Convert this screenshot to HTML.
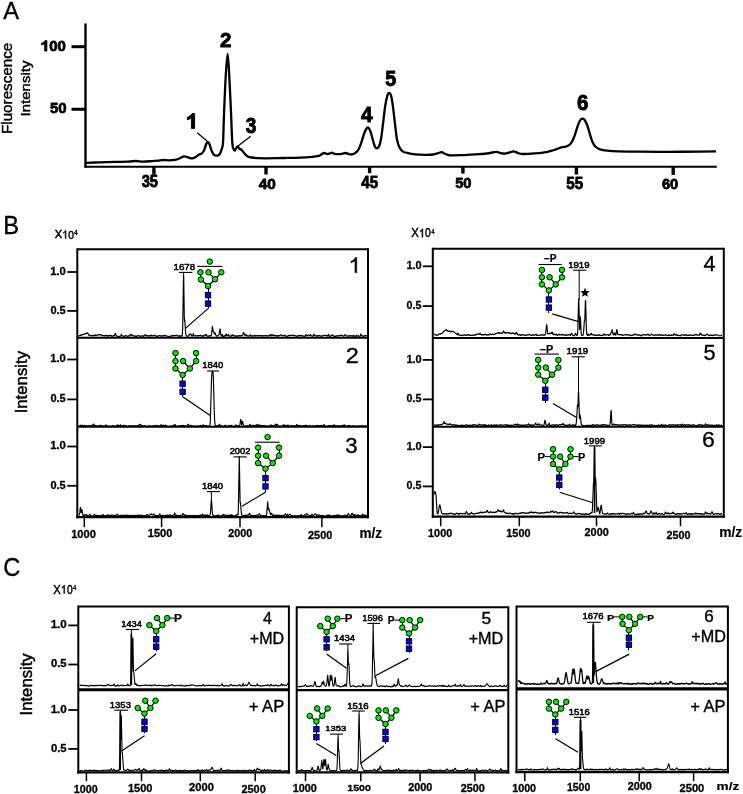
<!DOCTYPE html>
<html><head><meta charset="utf-8"><title>Figure</title>
<style>
html,body{margin:0;padding:0;background:#fff;}
svg{display:block;will-change:transform;}
text{font-family:"Liberation Sans",sans-serif;}
</style></head>
<body>
<svg width="743" height="794" viewBox="0 0 743 794">
<rect width="743" height="794" fill="#fff"/>
<text transform="translate(3.17,19.43) scale(0.9585,1)" font-size="24.71" font-weight="400" fill="#000"  stroke="#000" stroke-width="0.35" stroke-linejoin="round">A</text>
<text transform="translate(12.32,133.99) rotate(-90) scale(0.9849,1)" font-size="15.44" font-weight="400" fill="#000"  stroke="#000" stroke-width="0.45" stroke-linejoin="round">Fluorescence</text>
<text transform="translate(29.51,116.53) rotate(-90) scale(1.1025,1)" font-size="13.64" font-weight="400" fill="#000"  stroke="#000" stroke-width="0.45" stroke-linejoin="round">Intensity</text>
<line x1="85.50" y1="24.40" x2="85.50" y2="166.80" stroke="#000" stroke-width="2.4" stroke-linecap="round"/>
<line x1="84.50" y1="166.80" x2="716.80" y2="166.80" stroke="#000" stroke-width="2.0" />
<line x1="71.50" y1="46.70" x2="85.60" y2="46.70" stroke="#000" stroke-width="3.0" />
<line x1="71.50" y1="109.25" x2="85.60" y2="109.25" stroke="#000" stroke-width="3.0" />
<path transform="matrix(0.008230,0,0,-0.007231,40.234,51.100)" d="M810,0 L529,0 L529,1059 Q375,915 166,846 L166,1101 Q276,1137 400,1234 Q523,1330 598,1466 L810,1466 Z" fill="#000" stroke="#000" stroke-width="103.49" stroke-linejoin="round"/>
<text transform="translate(49.20,51.05) scale(1.0110,1)" font-size="14.79" font-weight="700" fill="#000"  stroke="#000" stroke-width="0.8" stroke-linejoin="round">00</text>
<text transform="translate(49.95,113.35) scale(0.9682,1)" font-size="15.49" font-weight="700" fill="#000"  stroke="#000" stroke-width="0.8" stroke-linejoin="round">50</text>
<line x1="153.90" y1="166.80" x2="153.90" y2="174.70" stroke="#000" stroke-width="3.4" />
<text transform="translate(141.63,187.44) scale(0.9414,1)" font-size="15.63" font-weight="700" fill="#000"  stroke="#000" stroke-width="0.8" stroke-linejoin="round">35</text>
<line x1="266.00" y1="166.80" x2="266.00" y2="174.50" stroke="#000" stroke-width="3.4" />
<text transform="translate(258.67,189.05) scale(1.0095,1)" font-size="15.21" font-weight="700" fill="#000"  stroke="#000" stroke-width="0.8" stroke-linejoin="round">40</text>
<line x1="369.60" y1="166.80" x2="369.60" y2="173.20" stroke="#000" stroke-width="3.4" />
<text transform="translate(361.37,188.34) scale(0.9591,1)" font-size="15.79" font-weight="700" fill="#000"  stroke="#000" stroke-width="0.8" stroke-linejoin="round">45</text>
<line x1="462.90" y1="166.80" x2="462.90" y2="173.60" stroke="#000" stroke-width="3.4" />
<text transform="translate(455.16,188.34) scale(0.9453,1)" font-size="15.56" font-weight="700" fill="#000"  stroke="#000" stroke-width="0.8" stroke-linejoin="round">50</text>
<line x1="576.40" y1="166.80" x2="576.40" y2="174.50" stroke="#000" stroke-width="3.4" />
<text transform="translate(566.25,188.54) scale(0.9479,1)" font-size="16.00" font-weight="700" fill="#000"  stroke="#000" stroke-width="0.8" stroke-linejoin="round">55</text>
<line x1="673.20" y1="166.80" x2="673.20" y2="174.90" stroke="#000" stroke-width="3.4" />
<text transform="translate(661.89,189.05) scale(1.0026,1)" font-size="14.65" font-weight="700" fill="#000"  stroke="#000" stroke-width="0.8" stroke-linejoin="round">60</text>
<path transform="matrix(0.011258,0,0,-0.010164,185.481,128.450)" d="M810,0 L529,0 L529,1059 Q375,915 166,846 L166,1101 Q276,1137 400,1234 Q523,1330 598,1466 L810,1466 Z" fill="#000" stroke="#000" stroke-width="84.03" stroke-linejoin="round"/>
<text transform="translate(220.03,47.35) scale(0.9889,1)" font-size="20.86" font-weight="700" fill="#000"  stroke="#000" stroke-width="0.9" stroke-linejoin="round">2</text>
<text transform="translate(245.78,133.34) scale(0.8929,1)" font-size="21.27" font-weight="700" fill="#000"  stroke="#000" stroke-width="0.9" stroke-linejoin="round">3</text>
<text transform="translate(360.94,121.75) scale(0.9739,1)" font-size="21.30" font-weight="700" fill="#000"  stroke="#000" stroke-width="0.9" stroke-linejoin="round">4</text>
<text transform="translate(385.36,86.39) scale(0.9177,1)" font-size="21.36" font-weight="700" fill="#000"  stroke="#000" stroke-width="0.9" stroke-linejoin="round">5</text>
<text transform="translate(576.94,110.14) scale(0.9535,1)" font-size="21.41" font-weight="700" fill="#000"  stroke="#000" stroke-width="0.9" stroke-linejoin="round">6</text>
<line x1="197.20" y1="132.80" x2="207.00" y2="141.10" stroke="#000" stroke-width="1.3" />
<line x1="250.70" y1="136.30" x2="237.70" y2="146.30" stroke="#000" stroke-width="1.3" />
<path d="M86.00,162.90 C88.33,162.80 95.17,162.47 100.00,162.30 C104.83,162.13 110.33,162.02 115.00,161.90 C119.67,161.78 124.50,161.75 128.00,161.60 C131.50,161.45 133.50,161.00 136.00,161.00 C138.50,161.00 140.33,161.58 143.00,161.60 C145.67,161.62 149.50,161.27 152.00,161.10 C154.50,160.93 156.17,160.78 158.00,160.60 C159.83,160.42 161.17,160.05 163.00,160.00 C164.83,159.95 167.00,160.32 169.00,160.30 C171.00,160.28 173.17,160.25 175.00,159.90 C176.83,159.55 178.50,158.80 180.00,158.20 C181.50,157.60 182.67,156.43 184.00,156.30 C185.33,156.17 186.67,157.05 188.00,157.40 C189.33,157.75 190.67,158.50 192.00,158.40 C193.33,158.30 194.83,157.43 196.00,156.80 C197.17,156.17 198.08,155.13 199.00,154.60 C199.92,154.07 200.67,154.28 201.50,153.60 C202.33,152.92 203.25,152.02 204.00,150.50 C204.75,148.98 205.37,145.95 206.00,144.50 C206.63,143.05 207.20,141.80 207.80,141.80 C208.40,141.80 208.98,143.05 209.60,144.50 C210.22,145.95 210.77,148.78 211.50,150.50 C212.23,152.22 213.03,153.95 214.00,154.80 C214.97,155.65 216.33,155.73 217.30,155.60 C218.27,155.47 219.12,154.93 219.80,154.00 C220.48,153.07 220.87,151.85 221.40,150.00 C221.93,148.15 222.57,148.82 223.00,142.90 C223.43,136.98 223.55,125.53 224.00,114.50 C224.45,103.47 225.10,86.78 225.70,76.70 C226.30,66.62 227.00,54.00 227.60,54.00 C228.20,54.00 228.72,66.62 229.30,76.70 C229.88,86.78 230.60,103.47 231.10,114.50 C231.60,125.53 231.88,137.15 232.30,142.90 C232.72,148.65 233.18,147.72 233.60,149.00 C234.02,150.28 234.35,150.77 234.80,150.60 C235.25,150.43 235.85,148.72 236.30,148.00 C236.75,147.28 237.00,146.20 237.50,146.30 C238.00,146.40 238.68,148.05 239.30,148.60 C239.92,149.15 240.50,149.00 241.20,149.60 C241.90,150.20 242.70,151.27 243.50,152.20 C244.30,153.13 245.17,154.42 246.00,155.20 C246.83,155.98 247.58,156.52 248.50,156.90 C249.42,157.28 249.92,157.30 251.50,157.50 C253.08,157.70 255.75,157.97 258.00,158.10 C260.25,158.23 260.50,158.32 265.00,158.30 C269.50,158.28 279.17,158.12 285.00,158.00 C290.83,157.88 295.50,157.80 300.00,157.60 C304.50,157.40 308.87,157.10 312.00,156.80 C315.13,156.50 317.22,156.23 318.80,155.80 C320.38,155.37 320.60,154.67 321.50,154.20 C322.40,153.73 323.28,153.03 324.20,153.00 C325.12,152.97 326.12,153.90 327.00,154.00 C327.88,154.10 328.72,153.82 329.50,153.60 C330.28,153.38 330.87,152.67 331.70,152.70 C332.53,152.73 333.45,153.55 334.50,153.80 C335.55,154.05 336.75,154.20 338.00,154.20 C339.25,154.20 340.72,154.00 342.00,153.80 C343.28,153.60 344.53,152.93 345.70,153.00 C346.87,153.07 347.95,153.97 349.00,154.20 C350.05,154.43 350.92,154.63 352.00,154.40 C353.08,154.17 354.42,153.62 355.50,152.80 C356.58,151.98 357.50,151.30 358.50,149.50 C359.50,147.70 360.50,144.83 361.50,142.00 C362.50,139.17 363.45,134.92 364.50,132.50 C365.55,130.08 366.80,127.67 367.80,127.50 C368.80,127.33 369.63,129.33 370.50,131.50 C371.37,133.67 372.25,137.95 373.00,140.50 C373.75,143.05 374.35,145.48 375.00,146.80 C375.65,148.12 376.23,148.45 376.90,148.40 C377.57,148.35 378.32,148.07 379.00,146.50 C379.68,144.93 380.33,142.75 381.00,139.00 C381.67,135.25 382.30,129.50 383.00,124.00 C383.70,118.50 384.45,110.80 385.20,106.00 C385.95,101.20 386.80,97.40 387.50,95.20 C388.20,93.00 388.78,92.67 389.40,92.80 C390.02,92.93 390.60,93.63 391.20,96.00 C391.80,98.37 392.37,102.33 393.00,107.00 C393.63,111.67 394.33,118.58 395.00,124.00 C395.67,129.42 396.25,135.58 397.00,139.50 C397.75,143.42 398.50,145.48 399.50,147.50 C400.50,149.52 401.58,150.65 403.00,151.60 C404.42,152.55 406.00,152.75 408.00,153.20 C410.00,153.65 412.17,154.03 415.00,154.30 C417.83,154.57 422.00,154.77 425.00,154.80 C428.00,154.83 430.83,154.77 433.00,154.50 C435.17,154.23 436.58,153.58 438.00,153.20 C439.42,152.82 440.33,152.10 441.50,152.20 C442.67,152.30 443.65,153.28 445.00,153.80 C446.35,154.32 447.10,155.07 449.60,155.30 C452.10,155.53 455.77,155.37 460.00,155.20 C464.23,155.03 470.45,154.58 475.00,154.30 C479.55,154.02 484.47,153.80 487.30,153.50 C490.13,153.20 490.43,152.77 492.00,152.50 C493.57,152.23 495.28,151.80 496.70,151.90 C498.12,152.00 499.15,152.82 500.50,153.10 C501.85,153.38 503.38,153.67 504.80,153.60 C506.22,153.53 507.52,153.07 509.00,152.70 C510.48,152.33 512.28,151.38 513.70,151.40 C515.12,151.42 516.07,152.37 517.50,152.80 C518.93,153.23 519.38,153.90 522.30,154.00 C525.22,154.10 530.97,153.72 535.00,153.40 C539.03,153.08 543.33,152.67 546.50,152.10 C549.67,151.53 551.75,150.72 554.00,150.00 C556.25,149.28 558.25,148.33 560.00,147.80 C561.75,147.27 563.08,147.17 564.50,146.80 C565.92,146.43 567.33,146.32 568.50,145.60 C569.67,144.88 570.50,144.10 571.50,142.50 C572.50,140.90 573.50,138.67 574.50,136.00 C575.50,133.33 576.58,129.08 577.50,126.50 C578.42,123.92 579.15,121.82 580.00,120.50 C580.85,119.18 581.77,118.60 582.60,118.60 C583.43,118.60 584.18,119.27 585.00,120.50 C585.82,121.73 586.67,123.67 587.50,126.00 C588.33,128.33 589.17,131.83 590.00,134.50 C590.83,137.17 591.58,139.95 592.50,142.00 C593.42,144.05 594.25,145.58 595.50,146.80 C596.75,148.02 598.08,148.67 600.00,149.30 C601.92,149.93 603.83,150.27 607.00,150.60 C610.17,150.93 613.50,151.12 619.00,151.30 C624.50,151.48 631.50,151.62 640.00,151.70 C648.50,151.78 660.00,151.82 670.00,151.80 C680.00,151.78 692.33,151.67 700.00,151.60 C707.67,151.53 713.33,151.43 716.00,151.40" fill="none" stroke="#000" stroke-width="2.3" stroke-linejoin="round"/>
<text transform="translate(3.28,233.62) scale(0.9403,1)" font-size="25.14" font-weight="400" fill="#000"  stroke="#000" stroke-width="0.35" stroke-linejoin="round">B</text>
<text transform="translate(54.65,238.47) scale(0.9354,1)" font-size="11.81" font-weight="400" fill="#000"  stroke="#000" stroke-width="0.45" stroke-linejoin="round">X</text>
<path transform="matrix(0.005278,0,0,-0.005537,62.048,238.475)" d="M763,0 L583,0 L583,1147 Q518,1085 415,1024 Q312,963 223,930 L223,1104 Q375,1175 487,1276 Q599,1377 649,1472 L763,1472 Z" fill="#000" stroke="#000" stroke-width="83.22" stroke-linejoin="round"/>
<text transform="translate(68.21,238.56) scale(0.8769,1)" font-size="11.76" font-weight="400" fill="#000"  stroke="#000" stroke-width="0.45" stroke-linejoin="round">0</text>
<text transform="translate(74.01,235.35) scale(0.9963,1)" font-size="6.96" font-weight="400" fill="#000"  stroke="#000" stroke-width="0.3" stroke-linejoin="round">4</text>
<text transform="translate(411.34,237.18) scale(0.9285,1)" font-size="12.25" font-weight="400" fill="#000"  stroke="#000" stroke-width="0.45" stroke-linejoin="round">X</text>
<path transform="matrix(0.005278,0,0,-0.005673,418.848,237.175)" d="M763,0 L583,0 L583,1147 Q518,1085 415,1024 Q312,963 223,930 L223,1104 Q375,1175 487,1276 Q599,1377 649,1472 L763,1472 Z" fill="#000" stroke="#000" stroke-width="82.19" stroke-linejoin="round"/>
<text transform="translate(425.11,237.25) scale(0.8465,1)" font-size="12.18" font-weight="400" fill="#000"  stroke="#000" stroke-width="0.45" stroke-linejoin="round">0</text>
<text transform="translate(431.23,233.55) scale(0.9316,1)" font-size="6.38" font-weight="400" fill="#000"  stroke="#000" stroke-width="0.3" stroke-linejoin="round">4</text>
<text transform="translate(26.95,413.36) rotate(-90) scale(1.0058,1)" font-size="16.68" font-weight="400" fill="#000"  stroke="#000" stroke-width="0.5" stroke-linejoin="round">Intensity</text>
<line x1="77.30" y1="249.30" x2="368.00" y2="249.30" stroke="#000" stroke-width="2.0" />
<line x1="77.30" y1="248.30" x2="77.30" y2="518.35" stroke="#000" stroke-width="2.0" />
<line x1="368.00" y1="248.30" x2="368.00" y2="518.35" stroke="#000" stroke-width="2.0" />
<line x1="76.30" y1="517.20" x2="369.00" y2="517.20" stroke="#000" stroke-width="2.3" />
<line x1="77.30" y1="337.80" x2="368.00" y2="337.80" stroke="#000" stroke-width="2.0" />
<line x1="77.30" y1="426.80" x2="368.00" y2="426.80" stroke="#000" stroke-width="2.0" />
<line x1="67.30" y1="272.00" x2="77.30" y2="272.00" stroke="#000" stroke-width="1.8" />
<text transform="translate(50.17,274.94) scale(1.0172,1)" font-size="11.13" font-weight="700" fill="#000"  stroke="#000" stroke-width="0.3" stroke-linejoin="round">1.0</text>
<line x1="67.30" y1="310.90" x2="77.30" y2="310.90" stroke="#000" stroke-width="1.8" />
<text transform="translate(50.41,313.84) scale(0.9903,1)" font-size="11.13" font-weight="700" fill="#000"  stroke="#000" stroke-width="0.3" stroke-linejoin="round">0.5</text>
<line x1="67.30" y1="359.50" x2="77.30" y2="359.50" stroke="#000" stroke-width="1.8" />
<text transform="translate(50.17,362.44) scale(1.0172,1)" font-size="11.13" font-weight="700" fill="#000"  stroke="#000" stroke-width="0.3" stroke-linejoin="round">1.0</text>
<line x1="67.30" y1="399.40" x2="77.30" y2="399.40" stroke="#000" stroke-width="1.8" />
<text transform="translate(50.41,402.34) scale(0.9903,1)" font-size="11.13" font-weight="700" fill="#000"  stroke="#000" stroke-width="0.3" stroke-linejoin="round">0.5</text>
<line x1="67.30" y1="446.50" x2="77.30" y2="446.50" stroke="#000" stroke-width="1.8" />
<text transform="translate(50.17,449.44) scale(1.0172,1)" font-size="11.13" font-weight="700" fill="#000"  stroke="#000" stroke-width="0.3" stroke-linejoin="round">1.0</text>
<line x1="67.30" y1="485.80" x2="77.30" y2="485.80" stroke="#000" stroke-width="1.8" />
<text transform="translate(50.41,488.74) scale(0.9903,1)" font-size="11.13" font-weight="700" fill="#000"  stroke="#000" stroke-width="0.3" stroke-linejoin="round">0.5</text>
<line x1="432.80" y1="248.80" x2="723.80" y2="248.80" stroke="#000" stroke-width="2.0" />
<line x1="432.80" y1="247.80" x2="432.80" y2="517.85" stroke="#000" stroke-width="2.0" />
<line x1="723.80" y1="247.80" x2="723.80" y2="517.85" stroke="#000" stroke-width="2.0" />
<line x1="431.80" y1="516.70" x2="724.80" y2="516.70" stroke="#000" stroke-width="2.3" />
<line x1="432.80" y1="338.10" x2="723.80" y2="338.10" stroke="#000" stroke-width="2.0" />
<line x1="432.80" y1="426.80" x2="723.80" y2="426.80" stroke="#000" stroke-width="2.0" />
<line x1="422.80" y1="266.30" x2="432.80" y2="266.30" stroke="#000" stroke-width="1.8" />
<text transform="translate(406.39,269.24) scale(0.9893,1)" font-size="11.13" font-weight="700" fill="#000"  stroke="#000" stroke-width="0.3" stroke-linejoin="round">1.0</text>
<line x1="422.80" y1="306.10" x2="432.80" y2="306.10" stroke="#000" stroke-width="1.8" />
<text transform="translate(406.62,309.04) scale(0.9632,1)" font-size="11.13" font-weight="700" fill="#000"  stroke="#000" stroke-width="0.3" stroke-linejoin="round">0.5</text>
<line x1="422.80" y1="359.90" x2="432.80" y2="359.90" stroke="#000" stroke-width="1.8" />
<text transform="translate(406.39,362.84) scale(0.9893,1)" font-size="11.13" font-weight="700" fill="#000"  stroke="#000" stroke-width="0.3" stroke-linejoin="round">1.0</text>
<line x1="422.80" y1="399.40" x2="432.80" y2="399.40" stroke="#000" stroke-width="1.8" />
<text transform="translate(406.62,402.34) scale(0.9632,1)" font-size="11.13" font-weight="700" fill="#000"  stroke="#000" stroke-width="0.3" stroke-linejoin="round">0.5</text>
<line x1="422.80" y1="447.10" x2="432.80" y2="447.10" stroke="#000" stroke-width="1.8" />
<text transform="translate(406.39,450.04) scale(0.9893,1)" font-size="11.13" font-weight="700" fill="#000"  stroke="#000" stroke-width="0.3" stroke-linejoin="round">1.0</text>
<line x1="422.80" y1="486.40" x2="432.80" y2="486.40" stroke="#000" stroke-width="1.8" />
<text transform="translate(406.62,489.34) scale(0.9632,1)" font-size="11.13" font-weight="700" fill="#000"  stroke="#000" stroke-width="0.3" stroke-linejoin="round">0.5</text>
<line x1="84.30" y1="517.50" x2="84.30" y2="527.20" stroke="#000" stroke-width="1.5" />
<text transform="translate(71.18,538.03) scale(0.9616,1)" font-size="11.55" font-weight="700" fill="#000"  stroke="#000" stroke-width="0.3" stroke-linejoin="round">1000</text>
<line x1="161.60" y1="517.50" x2="161.60" y2="527.20" stroke="#000" stroke-width="1.5" />
<text transform="translate(147.79,537.14) scale(1.0154,1)" font-size="10.85" font-weight="700" fill="#000"  stroke="#000" stroke-width="0.3" stroke-linejoin="round">1500</text>
<line x1="240.00" y1="517.50" x2="240.00" y2="527.20" stroke="#000" stroke-width="1.5" />
<text transform="translate(228.37,536.94) scale(0.9418,1)" font-size="11.41" font-weight="700" fill="#000"  stroke="#000" stroke-width="0.3" stroke-linejoin="round">2000</text>
<line x1="321.90" y1="517.50" x2="321.90" y2="527.20" stroke="#000" stroke-width="1.5" />
<text transform="translate(308.07,539.43) scale(0.9424,1)" font-size="11.55" font-weight="700" fill="#000"  stroke="#000" stroke-width="0.3" stroke-linejoin="round">2500</text>
<text transform="translate(359.42,538.21) scale(0.9389,1)" font-size="14.50" font-weight="700" fill="#000"  stroke="#000" stroke-width="0.2" stroke-linejoin="round">m/z</text>
<line x1="440.70" y1="517.20" x2="440.70" y2="526.20" stroke="#000" stroke-width="1.5" />
<text transform="translate(428.10,536.74) scale(0.9727,1)" font-size="11.13" font-weight="700" fill="#000"  stroke="#000" stroke-width="0.3" stroke-linejoin="round">1000</text>
<line x1="519.30" y1="517.20" x2="519.30" y2="526.20" stroke="#000" stroke-width="1.5" />
<text transform="translate(506.30,536.74) scale(0.9770,1)" font-size="11.13" font-weight="700" fill="#000"  stroke="#000" stroke-width="0.3" stroke-linejoin="round">1500</text>
<line x1="596.50" y1="517.20" x2="596.50" y2="526.20" stroke="#000" stroke-width="1.5" />
<text transform="translate(584.57,536.24) scale(0.9907,1)" font-size="10.99" font-weight="700" fill="#000"  stroke="#000" stroke-width="0.3" stroke-linejoin="round">2000</text>
<line x1="680.50" y1="517.20" x2="680.50" y2="526.20" stroke="#000" stroke-width="1.5" />
<text transform="translate(666.47,539.14) scale(0.9656,1)" font-size="11.13" font-weight="700" fill="#000"  stroke="#000" stroke-width="0.3" stroke-linejoin="round">2500</text>
<text transform="translate(719.20,537.41) scale(0.9654,1)" font-size="14.36" font-weight="700" fill="#000"  stroke="#000" stroke-width="0.2" stroke-linejoin="round">m/z</text>
<path transform="matrix(0.010833,0,0,-0.010428,348.559,272.725)" d="M763,0 L583,0 L583,1147 Q518,1085 415,1024 Q312,963 223,930 L223,1104 Q375,1175 487,1276 Q599,1377 649,1472 L763,1472 Z" fill="#000" stroke="#000" stroke-width="32.92" stroke-linejoin="round"/>
<text transform="translate(345.80,362.82) scale(1.0887,1)" font-size="21.50" font-weight="400" fill="#000"  stroke="#000" stroke-width="0.35" stroke-linejoin="round">2</text>
<text transform="translate(345.29,453.31) scale(1.0478,1)" font-size="21.20" font-weight="400" fill="#000"  stroke="#000" stroke-width="0.35" stroke-linejoin="round">3</text>
<text transform="translate(703.44,270.62) scale(0.9684,1)" font-size="22.39" font-weight="400" fill="#000"  stroke="#000" stroke-width="0.35" stroke-linejoin="round">4</text>
<text transform="translate(703.60,360.20) scale(0.9809,1)" font-size="22.21" font-weight="400" fill="#000"  stroke="#000" stroke-width="0.35" stroke-linejoin="round">5</text>
<text transform="translate(701.92,446.80) scale(1.0356,1)" font-size="22.32" font-weight="400" fill="#000"  stroke="#000" stroke-width="0.35" stroke-linejoin="round">6</text>
<path d="M78.5,335.7 78.9,335.9 79.3,335.6 79.9,335.6 80.5,335.0 80.9,335.3 81.3,335.3 81.5,334.9 82.1,334.9 82.7,334.3 83.1,334.7 83.5,334.2 84.3,334.1 84.5,333.8 84.7,334.0 84.9,333.7 85.1,333.9 85.5,333.7 85.7,333.9 86.1,333.6 86.7,333.7 87.3,332.7 87.7,332.7 88.5,334.6 89.1,335.4 89.7,335.3 90.1,335.6 90.3,335.1 91.1,335.8 91.3,335.6 91.9,335.8 92.1,335.4 92.3,335.7 92.7,335.4 93.5,335.7 93.7,335.5 94.5,335.7 95.1,334.7 95.7,335.6 96.3,335.3 96.7,335.6 96.9,335.3 97.1,335.4 97.7,334.7 98.3,334.5 98.9,334.9 99.7,334.6 100.7,334.9 101.1,334.7 102.3,335.5 102.5,335.4 103.1,335.8 103.5,335.5 103.7,335.7 103.9,335.5 104.3,336.0 104.7,335.5 104.9,335.7 105.3,335.3 105.9,335.8 106.1,335.5 106.5,335.7 106.9,335.3 107.5,336.1 107.7,335.8 108.5,336.0 109.3,335.2 109.9,335.6 110.5,335.3 111.1,336.2 111.5,335.6 111.7,336.0 112.1,336.1 113.1,335.9 113.3,335.6 113.7,336.0 113.9,335.8 114.3,335.9 114.5,335.6 115.3,333.3 116.3,335.8 117.3,336.4 117.5,336.2 118.3,336.5 118.5,336.3 119.5,336.5 119.9,336.4 120.1,336.0 120.5,335.9 121.5,334.4 121.9,335.6 122.3,336.0 122.9,335.9 123.1,336.2 123.9,336.5 124.1,336.1 124.5,336.2 125.3,335.6 125.9,335.3 126.1,335.7 127.5,336.4 127.7,336.1 128.1,336.2 128.3,335.9 128.5,336.1 129.1,335.7 129.5,335.8 129.7,335.6 129.9,335.8 130.3,334.8 130.5,334.6 130.7,335.0 131.1,334.2 131.9,335.6 132.7,335.2 133.5,336.0 133.7,335.7 134.1,336.3 134.3,335.9 134.5,336.2 134.9,336.0 135.1,336.3 135.5,336.0 136.5,336.5 136.9,336.1 137.3,336.1 137.7,335.6 138.1,335.5 138.5,335.7 139.3,335.7 140.3,336.4 140.7,335.9 141.3,336.2 142.3,335.7 142.7,336.1 143.1,335.8 143.7,336.4 144.1,335.8 144.7,335.5 144.9,334.9 145.3,334.5 146.1,335.6 146.9,335.6 147.3,336.0 147.7,335.5 148.3,336.0 148.9,335.7 149.1,335.9 149.5,335.8 149.7,336.1 150.1,335.6 150.5,335.8 151.1,335.0 151.3,335.6 151.7,335.5 152.7,335.9 153.1,335.6 153.3,335.7 153.7,335.4 154.1,335.7 154.5,335.3 154.9,335.6 155.3,335.4 156.3,336.4 156.7,336.4 157.3,335.9 157.7,336.4 159.1,335.4 159.5,335.7 160.1,335.8 160.3,335.6 160.7,336.1 161.1,335.7 162.3,336.3 162.5,335.9 162.9,336.1 163.3,335.4 163.7,335.9 163.9,335.6 164.1,335.8 164.7,335.5 165.1,335.1 165.7,336.0 166.1,335.8 166.5,336.2 167.7,336.0 169.1,336.8 169.5,336.6 169.9,336.6 170.5,336.0 170.9,336.3 171.5,335.8 171.9,335.7 172.1,336.0 172.7,335.5 173.1,335.8 173.5,335.5 173.7,335.5 174.1,335.9 174.7,335.4 175.1,335.3 175.5,335.7 176.3,335.1 176.9,335.2 177.9,336.2 178.3,336.1 178.5,336.3 179.1,335.7 179.5,336.2 180.3,335.9 180.7,336.2 181.1,335.7 181.5,335.7 181.9,335.9 182.1,335.8 182.3,334.8 182.7,327.1 183.5,275.6 183.7,275.9 184.3,317.4 184.5,321.3 184.7,319.8 184.9,321.2 185.5,331.5 185.9,335.0 186.7,336.0 187.1,336.2 187.3,336.1 187.9,336.3 188.1,336.0 188.3,336.1 188.9,335.4 189.1,334.8 189.7,334.9 190.3,333.7 190.5,333.7 190.7,333.7 191.7,335.9 192.1,336.2 192.7,335.6 193.3,333.6 193.5,333.8 193.9,335.8 194.3,335.9 195.3,335.7 195.7,335.8 196.1,335.5 196.3,335.6 196.5,335.5 196.7,335.8 197.3,335.9 197.5,336.1 198.1,335.5 198.5,335.8 198.7,335.6 199.3,335.7 199.5,335.5 200.5,335.2 200.7,335.6 201.1,335.7 201.7,336.2 202.7,335.6 203.3,336.2 203.7,336.2 203.9,335.9 204.5,335.7 205.1,334.6 205.3,334.6 205.7,335.2 206.3,334.5 206.9,335.8 207.1,335.7 207.5,336.2 208.1,336.4 208.3,336.1 208.7,336.2 209.3,335.6 209.7,335.9 209.9,335.8 210.1,336.1 210.7,335.7 210.9,336.0 211.3,335.5 211.5,334.7 212.3,327.0 212.5,326.5 213.3,331.9 213.5,331.2 213.9,331.7 214.3,333.6 214.7,334.2 215.3,333.1 215.9,335.4 216.5,336.1 216.7,336.0 217.1,336.2 217.5,335.7 218.3,335.3 218.5,334.9 219.1,334.6 219.7,330.1 219.9,329.1 220.1,329.0 220.7,333.9 221.1,335.6 221.5,336.1 221.7,335.9 222.1,334.3 222.3,334.5 222.7,336.1 223.3,336.4 223.9,336.1 224.1,336.3 224.5,335.6 225.5,336.0 226.1,333.7 226.3,333.7 226.7,335.4 226.9,335.6 227.1,335.5 227.5,335.6 228.5,334.4 229.3,336.1 229.7,336.2 229.9,336.0 230.5,336.3 230.7,336.0 230.9,336.1 231.1,335.9 231.5,335.9 231.9,335.1 232.5,334.7 232.9,335.6 233.5,335.8 233.9,335.4 234.1,335.7 234.5,335.7 234.9,336.2 235.5,335.8 235.9,336.3 236.1,336.0 236.3,336.2 236.9,335.8 237.3,336.3 237.9,335.9 238.1,336.1 238.5,335.5 238.7,335.7 238.9,335.5 239.5,336.0 239.7,335.8 240.1,336.2 240.7,335.7 241.1,335.8 241.7,335.4 242.1,335.7 242.7,335.0 243.3,332.7 243.5,332.6 243.9,332.9 244.5,334.9 244.9,335.6 245.1,335.7 245.9,334.2 246.7,335.7 247.5,335.5 247.9,336.1 248.1,335.8 249.1,336.1 249.7,335.6 250.1,334.9 250.5,334.8 251.1,336.0 251.5,336.4 251.7,336.1 251.9,336.2 252.7,335.6 253.3,335.9 253.9,335.8 254.3,335.9 254.5,335.6 255.3,336.1 255.9,335.4 256.7,335.5 256.9,335.8 257.1,335.6 257.3,335.9 257.9,336.1 258.7,335.4 259.7,335.7 259.9,335.5 260.1,335.8 260.7,335.4 261.3,336.0 261.5,335.8 262.1,335.6 262.3,335.9 262.5,335.6 262.7,335.7 263.1,336.2 263.3,335.9 263.7,336.0 264.1,335.6 264.3,335.9 264.5,335.7 265.1,335.6 265.5,335.3 266.1,336.0 266.9,335.6 267.3,336.0 267.7,335.8 268.1,336.1 268.3,335.8 268.7,335.9 269.1,335.5 269.5,335.5 270.1,334.7 270.3,334.6 270.9,335.9 271.5,334.8 272.5,335.4 273.1,334.7 273.3,334.8 273.5,335.4 273.9,335.8 274.1,335.6 274.5,335.7 275.3,335.3 275.9,335.9 276.5,335.5 276.7,335.9 276.9,335.8 277.5,336.3 278.3,335.5 278.5,335.8 278.7,335.6 279.1,335.8 280.1,335.2 280.3,335.2 280.5,334.9 280.9,334.7 281.3,334.8 282.1,335.8 282.7,335.5 282.9,335.7 283.3,335.7 283.5,335.9 284.7,335.1 285.1,335.4 285.5,336.0 285.7,335.9 286.1,336.2 286.3,336.0 287.1,336.5 288.3,335.6 289.9,335.4 290.1,335.6 290.5,335.4 290.9,335.4 292.1,335.0 292.5,335.5 293.1,335.3 293.7,335.6 294.5,335.3 294.9,335.8 295.7,335.7 296.1,336.1 296.5,336.0 296.9,336.3 297.3,336.3 297.9,335.7 298.3,336.0 298.5,335.8 298.7,335.9 299.1,335.4 299.7,335.6 299.9,336.0 300.3,335.6 300.5,335.5 300.7,335.7 301.1,335.4 302.7,335.9 303.1,336.3 303.5,336.0 303.7,336.2 303.9,336.0 304.9,336.5 305.9,334.5 306.5,335.8 306.7,335.8 307.3,335.5 307.5,335.6 308.3,334.8 309.1,335.6 309.3,335.5 309.5,335.2 309.9,335.2 310.3,334.4 311.1,335.7 311.5,335.9 311.9,335.8 312.5,336.3 313.1,336.1 313.9,334.0 314.3,335.3 314.5,335.5 314.9,335.1 315.1,335.2 315.5,336.0 315.7,335.8 315.9,336.0 316.5,335.8 316.9,336.1 317.1,335.8 317.3,335.9 317.9,335.5 318.3,336.1 318.9,335.5 319.7,335.6 320.1,336.0 320.5,335.8 321.1,336.3 321.3,336.2 321.9,336.3 322.5,335.6 322.7,335.9 323.7,335.3 324.3,335.5 325.1,335.5 325.7,335.2 325.9,335.5 326.5,335.3 326.9,335.8 327.1,335.6 327.3,335.9 327.9,336.0 328.5,334.4 329.3,336.0 329.7,336.5 329.9,336.3 330.3,336.5 331.3,335.3 331.7,335.3 332.3,334.9 332.7,335.6 332.9,335.4 333.5,336.0 333.9,336.0 334.7,336.6 334.9,336.2 335.1,336.4 335.7,336.1 335.9,336.3 336.1,335.9 336.9,335.7 337.3,336.0 338.1,335.8 338.3,336.0 338.9,335.5 339.1,335.7 339.3,335.6 339.9,336.0 340.5,335.4 340.9,335.5 341.1,335.2 341.7,335.1 342.1,335.5 342.3,335.4 342.5,335.8 342.9,336.0 343.1,335.8 343.3,336.1 343.5,336.0 343.7,336.2 344.3,335.6 344.7,334.7 344.9,334.7 345.7,335.3 345.9,335.8 346.1,335.7 346.7,335.9 346.9,335.8 347.5,336.2 348.1,336.0 348.3,335.7 348.7,336.1 349.1,336.1 349.7,335.8 350.3,335.9 350.5,335.6 351.3,335.9 351.5,336.2 351.9,335.8 352.3,336.1 352.5,335.9 352.9,336.3 353.5,335.3 354.1,335.6 354.7,336.4 355.5,336.6 356.3,335.2 357.1,336.2 357.9,335.7 358.3,336.0 358.7,335.8 359.1,336.2 359.9,336.5 360.3,335.8 360.7,334.1 360.9,333.9 361.3,335.6 361.9,335.6 362.5,336.2 362.7,335.9 362.9,336.2 363.1,335.9 363.7,336.3 364.9,335.6 365.7,335.9 366.1,335.5 366.5,335.7 366.9,335.4" fill="none" stroke="#000" stroke-width="1.15" stroke-linejoin="round"/>
<path d="M78.5,426.2 78.9,426.0 79.1,426.2 79.5,426.2 80.1,425.2 80.9,425.8 81.9,425.1 82.3,425.7 83.1,425.9 83.3,425.7 83.9,425.9 84.5,425.2 84.7,425.5 85.7,426.0 86.3,425.8 86.5,426.1 87.7,425.7 88.3,425.6 88.5,425.9 88.9,425.8 89.7,426.0 89.9,425.8 90.1,425.9 90.5,425.6 90.9,426.1 91.1,426.1 91.7,425.0 92.5,425.8 92.7,425.7 93.5,424.1 93.9,424.3 94.7,426.0 95.1,425.4 95.7,426.1 96.1,426.3 96.7,425.7 97.7,426.5 97.9,426.2 98.1,426.3 99.5,425.4 100.1,425.2 100.3,425.6 100.9,425.8 101.1,426.1 101.5,425.7 102.1,426.4 102.7,425.9 102.9,426.1 103.7,426.0 104.1,426.3 104.7,425.9 105.1,426.1 105.3,426.0 105.7,425.2 106.1,425.0 106.5,425.1 106.7,425.6 107.5,426.4 107.9,426.3 108.1,426.4 108.3,426.3 108.5,426.5 108.7,426.1 109.3,426.2 109.5,426.5 109.9,426.1 111.3,426.5 112.3,425.5 112.5,425.9 113.1,425.6 113.3,426.0 113.7,425.8 114.3,426.5 114.5,426.2 115.1,426.0 115.9,426.4 116.9,425.4 117.1,425.3 117.3,425.6 117.9,424.9 118.3,425.0 119.3,426.4 119.5,426.1 119.7,426.1 120.5,424.7 121.1,426.1 121.5,425.8 121.7,426.1 122.3,425.6 123.1,426.4 123.5,426.2 123.9,425.0 124.5,426.3 124.7,426.3 125.5,425.5 126.1,426.0 126.7,426.0 127.5,426.6 127.9,426.5 128.9,425.7 129.7,425.5 130.3,426.0 130.9,425.8 131.3,426.3 131.7,426.4 131.9,426.1 133.1,425.6 133.7,426.1 134.1,425.7 134.3,426.0 134.9,426.2 135.1,425.9 135.7,426.4 136.1,425.9 136.5,425.8 136.7,426.1 137.5,425.5 137.9,426.1 138.1,426.1 138.5,425.6 138.7,425.7 139.3,424.3 139.7,424.2 140.1,424.9 140.3,424.7 140.5,425.1 140.9,425.3 141.3,425.0 141.9,425.7 142.5,425.6 142.9,426.1 143.3,425.8 143.5,426.1 144.1,425.6 144.3,425.9 144.5,425.8 144.7,426.0 144.9,425.7 145.1,425.9 145.3,425.7 145.9,426.2 146.1,426.1 146.3,426.4 146.5,426.3 147.1,426.8 147.5,426.2 147.9,426.4 148.1,426.2 148.5,426.2 149.3,425.4 150.1,426.4 150.3,426.2 150.9,426.4 151.1,426.1 151.3,426.3 151.7,426.0 152.3,426.4 152.7,426.0 152.9,426.2 153.1,425.9 153.3,426.1 153.9,425.8 154.1,426.0 154.9,425.4 155.3,425.9 155.5,425.7 156.9,425.5 157.3,425.3 158.1,426.3 158.3,426.4 158.7,425.9 158.9,426.2 159.3,426.3 160.1,425.4 160.5,425.7 161.1,424.6 161.7,425.3 162.5,425.6 163.9,425.1 164.7,426.2 165.3,425.8 165.9,425.0 166.5,426.2 166.7,426.0 167.3,426.5 168.7,426.3 169.5,426.5 170.1,426.2 170.7,426.2 171.3,425.6 171.5,425.8 171.7,425.6 172.1,426.0 173.3,425.7 173.5,425.8 173.9,425.5 174.3,424.6 174.7,426.0 175.3,424.7 175.7,425.8 176.1,426.2 177.3,426.3 177.5,425.9 178.1,426.3 178.5,426.2 178.9,425.8 179.1,426.1 179.3,425.8 179.5,426.1 179.7,425.8 180.1,425.9 180.3,425.7 180.7,425.9 181.3,425.5 181.5,425.9 181.7,425.7 182.1,425.9 182.3,425.8 182.7,425.9 183.1,425.4 183.3,425.6 183.5,425.4 184.7,426.3 185.1,426.0 185.7,426.2 186.3,425.8 186.5,426.0 186.9,425.9 187.5,425.0 188.3,424.3 189.3,425.6 189.5,425.5 189.9,426.2 190.3,426.2 190.9,425.2 192.1,426.0 192.3,425.8 192.5,426.0 192.7,425.9 193.5,426.3 193.7,426.0 193.9,426.2 194.3,426.1 194.7,426.5 195.3,426.0 196.1,426.4 196.3,426.3 196.7,426.4 197.3,425.8 197.5,426.0 197.9,425.8 198.3,426.3 198.5,426.0 198.7,426.1 198.9,425.9 199.5,426.3 199.9,426.0 200.1,426.0 200.5,425.2 200.9,425.2 201.5,426.1 201.9,426.0 202.1,426.2 202.3,426.1 203.1,424.8 203.5,424.9 203.9,425.7 204.1,425.8 204.5,425.6 204.9,426.1 205.9,425.4 206.3,425.9 206.7,426.1 207.1,425.8 208.3,426.4 208.5,426.2 208.9,426.4 209.9,425.4 210.3,421.7 211.5,379.5 211.9,373.4 212.1,372.3 212.7,371.1 213.1,372.7 213.3,375.7 214.3,412.7 214.7,421.0 214.9,423.7 215.3,425.6 215.7,425.6 216.5,426.2 216.9,425.8 217.1,426.0 217.5,425.8 217.9,425.9 218.3,425.6 218.7,425.8 219.5,424.3 219.7,424.4 220.3,425.7 220.7,426.0 221.3,425.6 221.7,425.7 222.1,426.2 222.5,426.2 223.3,426.6 223.5,426.2 223.9,426.2 224.5,425.8 224.7,426.0 225.3,425.2 225.9,426.0 226.1,426.1 226.3,425.9 226.7,426.3 227.3,426.7 227.7,426.6 227.9,426.1 228.1,426.2 228.5,425.5 229.1,425.4 229.7,425.9 230.1,425.6 230.5,425.7 230.7,425.5 231.1,425.7 231.5,425.3 231.7,425.3 231.9,425.9 232.3,426.2 232.7,426.5 232.9,426.3 233.7,426.9 234.1,426.4 234.5,426.6 234.9,426.4 235.5,425.3 235.9,425.0 236.5,425.3 236.9,425.9 237.1,425.7 237.3,426.1 237.7,425.8 238.5,426.2 238.7,425.9 239.5,425.7 239.9,424.7 240.7,419.4 241.1,420.5 241.7,425.0 242.5,421.4 243.5,425.5 244.3,426.5 244.5,426.3 244.9,426.3 245.5,425.8 245.7,426.0 246.3,425.7 246.9,426.1 247.3,425.8 247.7,426.2 248.1,425.9 248.5,426.4 249.1,426.0 249.7,424.4 250.1,424.5 250.9,426.4 251.5,425.7 251.7,425.8 252.5,425.3 252.9,425.5 253.1,425.4 253.3,425.6 253.9,425.6 254.1,425.9 254.3,425.7 254.5,425.9 254.7,425.7 254.9,426.0 255.3,426.1 256.1,424.8 256.5,425.7 256.7,425.8 257.7,424.4 258.5,425.3 258.9,425.3 259.3,425.7 259.7,425.1 259.9,425.3 260.3,425.1 260.7,426.1 261.1,426.0 261.3,426.2 262.1,425.5 262.7,426.0 263.5,425.6 263.9,425.9 264.1,425.7 264.7,426.2 265.1,426.1 265.5,425.7 266.1,426.1 266.5,426.0 267.3,426.4 267.5,426.2 267.7,426.4 268.1,426.2 268.5,426.6 269.1,426.0 269.3,426.1 269.7,425.6 270.1,425.3 270.5,425.4 270.9,425.9 271.5,424.9 272.3,425.6 272.5,425.5 272.7,425.7 273.1,425.4 273.5,425.8 273.9,425.7 274.7,426.1 275.1,424.9 275.7,424.2 275.9,424.3 276.3,425.7 276.9,424.3 277.1,424.2 277.5,424.8 278.1,425.2 278.7,426.2 279.1,426.0 280.1,426.6 280.5,426.2 280.9,426.5 281.3,426.1 281.7,426.4 281.9,426.0 282.1,426.2 283.3,424.9 283.7,425.1 284.1,426.0 284.3,426.0 284.7,425.1 284.9,425.0 285.1,425.1 285.5,425.7 285.9,425.5 286.1,425.8 286.5,425.9 286.7,425.8 287.3,426.0 287.7,425.0 288.1,424.9 288.5,425.9 289.9,426.4 290.1,426.1 290.3,426.1 290.7,425.8 290.9,426.1 291.9,425.6 292.5,426.0 292.9,425.7 293.5,426.1 293.9,426.0 294.1,425.7 294.7,426.3 294.9,426.1 295.3,426.2 295.7,425.9 295.9,426.0 296.7,424.4 297.5,425.8 298.1,425.8 298.5,425.4 298.9,425.4 299.5,425.9 300.3,425.3 300.7,425.9 301.5,426.4 302.3,425.6 303.1,426.2 303.9,425.5 304.1,425.7 304.3,425.5 304.7,425.5 304.9,425.8 305.5,425.6 305.9,425.0 306.1,425.0 306.5,425.9 307.5,426.2 307.7,426.0 308.1,426.2 308.3,426.0 308.5,426.2 308.7,426.0 308.9,426.1 309.7,425.4 310.5,426.3 310.7,426.1 310.9,426.3 311.5,426.3 312.3,425.7 312.7,426.2 312.9,426.3 313.1,426.0 313.7,426.5 313.9,426.2 314.1,426.4 314.9,425.9 316.1,425.5 316.3,425.6 316.7,425.4 317.3,425.7 317.5,425.5 317.7,425.8 317.9,425.6 318.1,426.0 318.3,425.7 318.7,425.6 318.9,425.7 319.3,425.5 319.7,426.1 320.1,425.6 320.5,425.5 320.9,425.8 321.9,425.4 322.3,426.0 322.7,425.8 322.9,426.0 323.3,425.8 323.5,425.9 324.1,424.6 324.3,424.6 325.1,426.4 325.3,426.3 325.9,426.6 326.1,426.4 326.3,426.5 326.7,426.0 327.3,426.1 327.5,426.0 328.1,426.1 328.5,425.7 328.9,426.0 329.7,425.6 330.1,425.8 330.3,425.6 330.7,426.2 331.1,425.8 331.3,426.1 331.7,425.5 331.9,425.5 332.1,425.7 332.3,425.5 332.9,426.0 333.5,425.6 333.9,424.7 334.1,424.7 334.9,425.8 335.5,425.5 336.5,426.3 336.9,425.9 337.5,425.9 337.7,425.7 338.1,426.1 338.3,425.9 338.5,426.1 338.9,425.7 339.7,425.7 340.3,426.3 340.7,425.9 340.9,426.1 341.3,425.8 341.9,425.9 342.3,425.5 342.7,425.6 343.1,425.0 343.7,425.9 344.5,424.9 344.7,424.9 345.1,425.7 345.7,426.2 346.1,426.1 346.3,426.3 346.9,426.3 347.5,425.7 347.7,425.7 347.9,426.0 348.5,425.5 349.1,426.1 349.7,425.5 350.1,425.7 350.5,426.3 350.9,426.0 351.3,426.4 351.9,426.4 352.3,425.8 352.5,426.0 352.9,425.6 353.5,425.7 353.9,426.2 354.3,426.3 354.5,426.5 354.7,426.2 354.9,426.3 355.3,426.0 355.5,426.1 355.7,425.9 356.5,426.5 357.1,426.0 357.5,426.4 357.9,426.0 358.1,426.3 358.7,425.8 359.1,426.1 359.3,426.0 359.9,426.2 360.1,426.0 360.3,426.1 360.7,425.7 361.1,426.1 361.7,426.3 362.9,425.5 363.7,426.2 364.3,426.5 364.7,426.0 364.9,426.3 365.9,425.5 366.5,426.3 366.9,426.3" fill="none" stroke="#000" stroke-width="1.15" stroke-linejoin="round"/>
<path d="M78.5,515.4 79.3,514.7 79.7,513.5 80.3,507.9 80.5,507.4 81.1,512.5 81.3,512.4 81.7,509.4 81.9,509.4 82.9,515.3 83.5,515.3 83.7,515.1 83.9,515.4 84.3,515.0 84.7,515.4 84.9,515.4 85.5,514.6 86.3,515.1 86.5,514.8 86.7,514.8 87.1,515.3 87.3,515.2 88.3,516.0 88.7,516.0 89.9,514.2 90.5,515.2 90.9,515.5 91.9,515.9 92.3,515.8 93.1,516.1 93.5,515.9 94.3,514.4 94.5,514.6 94.7,514.5 95.5,515.7 95.7,515.5 95.9,515.7 96.3,515.7 96.7,515.4 97.3,515.8 97.7,515.4 98.5,515.7 98.7,515.6 98.9,515.8 99.1,515.6 99.3,515.9 99.5,515.6 99.7,515.8 100.1,515.8 100.3,516.0 100.7,515.9 100.9,515.6 101.3,515.8 101.7,515.4 102.3,515.7 102.7,514.7 103.1,514.5 103.7,515.8 103.9,515.6 104.3,515.9 104.5,515.6 104.9,515.5 105.3,515.9 105.9,515.9 106.5,515.4 106.7,515.6 106.9,515.3 107.5,515.3 107.9,514.7 108.3,514.9 108.9,515.8 109.1,515.6 109.5,515.8 110.3,515.2 110.9,515.4 111.1,515.2 111.5,515.6 112.3,515.1 112.7,515.4 113.3,515.2 113.7,515.6 113.9,515.5 114.3,515.6 114.7,515.3 115.3,515.7 115.5,515.4 115.7,515.6 116.1,515.5 116.7,515.0 117.1,514.2 117.7,514.6 117.9,515.1 118.3,515.2 118.9,515.8 119.1,515.6 119.5,515.8 120.3,515.4 120.5,515.5 121.1,515.0 121.7,516.0 121.9,516.1 122.3,515.9 122.5,515.6 122.9,515.4 123.3,515.7 123.5,515.5 123.7,515.7 124.3,515.2 124.9,515.1 125.1,515.1 125.3,515.5 125.7,515.6 126.7,515.2 127.1,515.5 127.3,515.2 127.5,515.6 128.1,515.1 129.1,515.9 129.3,515.6 129.5,515.9 129.9,515.4 130.3,515.7 130.5,515.8 130.7,515.6 130.9,515.8 131.5,515.4 131.7,515.7 132.3,515.3 132.7,515.8 133.1,515.9 133.3,515.6 133.5,515.7 133.7,515.5 134.1,515.9 134.3,515.5 134.5,515.5 134.9,515.1 135.1,515.4 135.7,515.5 136.1,515.3 136.5,515.7 136.7,515.5 136.9,515.7 137.9,515.0 138.3,515.2 138.9,515.1 139.3,515.6 140.7,515.2 141.1,515.4 141.5,515.1 142.1,515.6 143.3,515.6 143.5,515.9 143.9,515.4 144.7,516.2 144.9,515.8 145.1,515.9 145.3,515.6 145.5,515.8 146.1,515.6 147.1,514.4 147.5,514.6 148.1,515.6 148.7,515.5 148.9,515.7 150.1,514.5 150.5,514.5 150.9,513.9 151.5,514.0 151.9,514.8 152.3,515.1 153.1,514.9 153.5,514.5 153.7,513.9 154.1,514.3 154.9,515.8 155.9,515.4 156.5,515.6 156.9,515.5 157.1,515.7 157.5,515.6 157.7,515.8 158.3,515.7 158.7,515.9 159.7,513.8 160.5,515.4 160.9,515.4 161.1,515.7 161.9,515.3 162.5,515.9 162.9,515.6 163.1,515.8 163.5,515.7 163.7,515.4 164.1,515.5 164.5,516.0 164.7,516.1 164.9,515.9 165.3,516.0 165.7,515.2 166.1,515.1 166.5,515.5 166.9,515.5 167.1,515.3 167.5,515.6 167.9,515.2 168.3,515.7 168.9,515.4 169.7,515.4 170.1,514.6 170.5,515.6 171.1,516.1 171.7,515.5 172.3,515.5 172.5,515.3 172.7,515.5 173.1,515.0 173.9,515.5 174.1,515.3 174.7,512.9 175.5,515.4 175.7,515.6 176.3,515.0 177.1,515.9 177.3,515.6 177.9,516.0 178.1,515.8 178.3,516.0 178.5,515.6 180.1,515.4 180.5,515.1 181.1,515.8 181.9,515.3 182.1,515.6 183.1,513.4 183.7,514.8 184.3,515.6 184.9,514.7 185.7,515.8 186.3,515.3 187.3,516.0 187.9,515.6 188.9,515.9 189.3,515.4 189.7,515.6 189.9,515.5 190.7,515.6 190.9,515.4 191.5,515.7 192.3,515.9 192.9,515.4 193.3,515.8 193.7,515.9 194.1,515.4 194.5,515.4 194.9,515.8 195.3,515.5 195.7,515.8 196.1,515.6 196.5,516.0 196.7,515.8 196.9,516.0 197.1,515.7 197.5,515.7 197.7,515.9 198.1,515.4 198.3,515.7 198.9,515.6 199.3,515.2 199.7,515.2 200.3,515.8 200.9,514.9 201.1,515.1 201.5,515.0 201.7,515.4 202.1,515.2 202.5,514.0 202.9,515.2 203.5,515.5 204.1,515.4 204.7,514.9 204.9,515.3 205.1,515.2 205.3,515.4 205.5,515.2 205.7,515.5 205.9,515.2 206.7,516.0 207.5,514.9 207.7,515.3 207.9,515.2 208.7,516.0 209.1,515.8 209.3,516.0 210.1,514.8 210.5,512.4 211.3,500.4 211.5,500.5 211.7,502.5 212.3,512.3 212.7,514.8 213.1,515.6 213.3,515.5 213.7,515.6 213.9,515.4 214.3,515.9 214.5,515.8 215.3,516.1 215.9,515.6 216.7,515.5 217.1,515.2 217.7,515.5 218.1,515.3 218.3,515.5 218.7,515.2 219.3,515.4 219.7,516.0 220.3,516.3 220.5,516.1 220.7,516.2 221.5,515.4 221.9,515.6 222.1,515.4 222.3,515.6 222.5,515.3 223.1,515.3 223.5,514.3 223.9,514.6 224.1,515.2 224.7,515.0 225.7,515.6 226.3,515.2 226.7,515.7 227.1,515.2 227.5,515.8 228.1,515.4 229.7,515.4 229.9,515.2 230.3,515.6 230.7,515.2 231.1,515.7 231.7,514.5 232.3,515.9 232.9,515.4 233.9,516.1 234.3,515.7 235.1,515.6 235.7,515.1 235.9,515.3 236.7,515.4 237.3,514.1 237.5,514.1 237.9,514.8 238.1,514.2 238.3,510.8 239.3,456.7 240.1,502.7 240.3,502.4 240.5,503.1 241.3,512.3 241.7,514.8 242.9,515.8 243.1,515.6 243.5,515.8 243.9,515.5 244.5,515.6 245.3,515.1 245.9,515.7 246.9,515.1 247.5,515.4 248.5,514.5 248.7,514.5 248.9,515.1 249.5,513.2 250.5,515.5 251.1,515.6 251.5,515.3 251.7,515.5 252.1,515.4 252.5,515.9 252.9,515.6 253.5,515.8 254.1,515.3 254.7,515.9 255.1,516.1 255.7,515.4 256.1,515.2 256.3,515.6 257.1,515.0 258.1,515.6 258.7,514.8 259.1,513.7 259.7,514.2 260.1,515.4 261.1,515.4 261.3,515.7 261.7,515.3 262.5,515.7 263.3,515.7 263.9,515.5 264.7,515.9 265.5,515.7 265.7,516.0 266.5,515.1 266.7,514.1 267.7,501.7 268.3,509.8 268.7,509.0 268.9,508.9 269.1,509.3 270.3,513.9 270.7,514.8 271.5,513.2 271.9,513.6 272.3,515.1 272.7,515.4 273.1,515.0 273.5,515.4 273.9,515.2 274.1,515.5 274.7,515.3 274.9,515.4 275.3,515.1 275.7,515.5 276.1,515.1 276.3,515.4 276.9,515.8 277.5,515.2 277.7,515.4 277.9,515.2 278.3,515.5 278.7,515.6 278.9,515.3 279.5,515.4 279.9,515.1 280.5,515.9 280.9,516.2 281.3,515.3 281.9,515.5 282.1,515.8 282.5,515.5 282.7,515.8 283.1,515.2 283.7,515.4 284.1,515.1 284.7,515.3 285.5,513.9 286.1,515.1 286.7,515.7 287.1,515.2 287.5,514.2 288.3,515.7 288.9,515.3 289.3,514.6 290.1,514.2 290.9,515.4 292.5,515.6 293.1,516.1 293.3,515.9 293.7,516.0 294.1,515.9 294.3,515.6 294.5,515.9 294.9,515.8 295.1,516.0 295.7,515.7 296.5,516.1 296.7,515.8 297.1,515.8 297.3,515.5 297.9,516.1 298.3,515.7 298.7,515.9 298.9,515.7 299.1,515.9 299.5,515.7 299.7,516.0 300.3,516.1 300.5,516.1 301.1,514.5 301.5,515.5 301.9,515.4 302.3,515.7 303.9,515.7 304.5,514.8 304.7,514.7 305.1,515.4 305.5,515.3 305.9,515.5 306.5,514.0 306.7,513.9 306.9,514.0 307.1,513.7 307.5,514.1 308.1,515.6 309.7,516.0 310.3,515.4 310.5,515.8 310.7,515.7 310.9,515.9 311.9,514.2 312.3,514.5 312.7,515.6 313.3,515.5 313.5,515.6 314.3,514.8 314.7,514.0 315.1,514.1 315.5,513.9 315.7,513.9 316.5,515.4 317.3,515.1 317.9,515.5 318.5,515.1 318.7,515.3 319.3,514.9 320.3,515.6 320.7,515.4 321.3,515.7 321.9,515.3 322.1,515.6 322.5,515.6 323.1,516.0 323.3,515.8 323.7,516.0 323.9,515.7 324.5,516.2 325.1,516.1 325.5,516.3 325.7,516.0 325.9,516.1 326.1,515.8 327.1,515.3 327.3,515.4 328.1,515.0 328.9,515.7 329.3,515.1 330.1,515.3 331.1,516.2 331.3,516.0 331.7,516.2 331.9,515.9 332.3,515.7 332.7,515.9 333.1,515.6 334.5,515.6 334.7,515.3 334.9,515.6 335.3,515.5 335.7,515.9 336.3,515.9 337.1,514.8 337.5,515.0 337.9,515.4 338.9,514.9 339.1,515.4 339.7,515.8 340.1,515.6 340.5,515.9 340.9,516.1 341.1,515.9 341.5,516.2 341.9,515.6 342.3,515.9 343.1,516.0 343.5,515.5 343.7,515.6 344.5,515.2 344.9,515.3 345.1,515.2 345.7,515.6 346.1,515.3 346.5,515.6 346.9,515.5 347.1,515.7 347.3,515.6 348.1,513.6 348.3,513.6 348.9,515.0 349.9,515.1 350.5,515.8 350.7,515.5 350.9,515.7 351.1,515.4 351.7,513.5 352.1,513.8 352.3,513.3 352.5,513.3 352.9,515.2 353.5,515.6 354.1,514.6 354.5,515.4 354.9,515.0 355.3,514.9 355.5,515.4 355.7,515.2 356.3,516.0 356.5,515.8 356.7,516.0 356.9,515.6 357.3,515.5 357.7,514.8 358.1,514.7 358.5,515.5 358.7,515.4 358.9,515.7 359.3,515.4 359.7,516.0 360.1,516.1 360.5,515.8 360.9,515.8 361.3,515.5 361.7,515.7 362.5,514.1 362.9,515.2 363.5,515.4 363.9,515.1 364.1,515.5 364.9,514.7 365.3,515.7 365.9,515.5 366.5,515.6 366.9,516.0" fill="none" stroke="#000" stroke-width="1.15" stroke-linejoin="round"/>
<path d="M434,334.3 434.4,334.1 434.8,334.4 435,334.9 435.8,334.9 436,334.7 436.4,335.2 436.6,335.1 436.8,335.3 437.4,334.9 437.6,335.2 438,335.2 438.8,334.2 439.4,333.8 440.2,334.3 440.6,333.8 440.8,333.9 441.2,333.5 442.2,333.1 442.4,332.6 442.6,332.7 443,332.5 443.8,331.2 444,331.4 444.4,330.9 444.6,330.9 445.6,329.8 446.2,329.6 447,330.8 447.2,330.7 447.6,331.2 447.8,330.9 448.6,331.4 449.2,330.8 450.6,332.0 450.8,331.8 451,331.9 451.4,331.4 451.6,331.5 451.8,331.2 452,331.5 452.8,331.3 453.2,331.7 453.4,331.5 453.8,331.5 454.6,332.7 455.4,333.0 457.4,334.9 458,333.0 458.8,335.0 459,335.1 459.2,334.9 459.4,335.1 459.8,335.0 460.6,335.6 460.8,335.4 461,335.6 461.4,335.2 462.2,335.7 462.8,335.0 463,335.3 463.2,335.0 463.8,334.9 464,335.2 464.4,334.8 464.6,335.1 464.8,334.9 465.2,334.8 465.4,335.1 465.8,335.1 466.4,335.5 467,334.9 467.2,335.2 467.6,334.7 468,334.9 468.2,334.7 468.4,334.9 469,334.5 469.6,335.3 470,335.0 470.6,335.6 471.2,335.3 472,335.5 472.6,335.0 472.8,335.1 473.2,334.9 473.4,335.1 473.8,335.0 474.2,335.4 475,334.8 475.6,335.2 476.4,334.1 476.8,334.4 477.4,333.9 477.6,334.1 478,334.1 478.2,334.0 478.4,334.2 478.8,334.1 479,334.3 479.4,334.1 480,333.1 480.2,333.1 480.6,334.3 481.6,335.0 482,334.7 482.2,334.9 482.6,334.6 482.8,334.9 483,334.6 483.2,334.8 483.4,334.6 483.6,334.9 484,334.5 484.6,334.8 485.2,334.2 485.6,334.4 486.2,335.1 486.8,334.8 487.2,335.0 487.4,334.7 487.8,335.2 488.2,334.9 488.4,335.0 488.8,334.7 489.2,334.9 490,334.2 490.2,333.7 490.6,334.5 491.2,334.8 491.4,334.5 491.8,334.5 492.8,333.9 493.6,334.6 493.8,334.4 494,334.5 495.2,334.1 495.8,333.4 496,333.6 496.8,333.5 498.2,332.6 498.4,332.7 498.6,333.1 498.8,332.8 499.6,333.4 499.8,333.1 500,333.4 500.6,332.8 501.2,333.1 501.8,332.9 502,333.2 502.6,333.3 503.6,330.9 504,332.0 504.2,331.9 504.4,332.1 505,333.2 505.6,332.6 506,332.8 506.2,333.1 506.6,332.8 507,332.9 507.4,332.5 507.6,332.6 507.8,332.4 509,333.4 509.4,332.9 510,333.1 510.2,332.9 510.4,333.1 510.6,333.0 511.2,333.7 511.8,333.0 512,333.1 512.6,332.9 513,333.4 513.8,333.0 514.8,334.1 515.4,334.3 515.8,333.0 516.2,332.5 516.4,332.7 516.6,333.7 516.8,333.7 517,333.0 517.2,333.2 518,335.0 518.2,334.9 518.4,335.1 519.2,334.5 519.4,334.7 519.6,334.5 520,335.1 520.2,334.9 520.6,335.5 521.6,334.7 521.8,335.0 522.6,334.7 522.8,335.0 523.4,334.6 523.6,334.8 523.8,334.7 524.2,335.3 525.2,335.2 525.6,335.6 525.8,335.4 526,335.5 526.2,335.1 526.4,335.2 526.6,335.0 526.8,335.3 527.4,334.7 528.2,334.4 528.6,334.5 529,335.0 529.6,334.8 530.2,335.0 530.4,334.8 531,335.4 531.2,335.1 531.6,335.3 531.8,335.1 532,335.3 532.6,334.7 532.8,335.0 533,334.8 534,335.4 534.6,334.8 534.8,335.1 535.2,335.0 536,334.0 536.8,335.4 537,335.2 537.2,335.4 537.4,335.3 537.6,335.5 538,335.3 538.8,335.2 539.4,335.4 540,334.9 540.2,335.1 540.4,334.9 540.6,335.1 541.8,334.7 542.6,334.9 543,335.3 543.2,334.9 543.4,335.0 544,334.7 544.4,335.1 544.8,335.1 545.4,334.3 545.6,333.7 546.6,324.5 546.8,324.9 547.6,332.9 548,334.0 548.6,333.9 549,333.6 549.4,333.7 549.8,333.2 550.8,333.8 551.4,332.4 551.8,332.7 552,333.2 552.4,332.2 553.2,334.7 553.6,334.8 554,333.9 554.2,333.9 555,334.7 555.2,334.5 555.4,334.9 556,334.8 556.4,334.1 557.2,335.5 557.4,335.5 557.6,335.0 558.4,334.8 558.8,334.1 559.4,334.9 559.8,334.7 560,335.0 560.6,334.9 560.8,335.0 561.8,334.1 562.2,334.9 563,334.8 563.2,335.1 563.6,334.7 564.6,334.9 564.8,335.3 565.6,334.8 566.2,335.5 566.6,335.5 567.4,334.8 568.2,334.8 568.6,335.2 569.2,334.5 569.8,334.3 570.4,335.4 571.4,333.4 571.6,333.3 571.8,333.4 572.2,334.6 573,335.6 573.6,335.4 574.2,335.8 574.4,335.6 574.8,335.1 575.4,333.4 575.6,333.4 576.6,335.2 576.8,335.4 577.2,335.4 577.6,333.5 577.8,330.3 578.6,299.1 578.8,299.0 579.6,329.6 580.2,317.7 580.4,316.8 581.2,333.1 581.4,334.9 582,335.7 582.4,335.4 582.8,335.4 583.2,334.5 583.6,331.6 584.4,320.6 584.6,319.8 584.8,320.8 585.4,300.5 585.6,300.7 586.4,329.9 586.8,334.3 587.4,335.4 588,334.0 588.4,334.3 588.8,335.3 589.2,335.6 589.6,334.9 589.8,335.0 590.2,334.7 590.6,334.7 591,333.2 591.2,333.2 591.8,334.7 592.4,334.6 592.6,334.9 593.4,334.5 594,335.2 594.6,335.4 595,335.0 595.4,335.4 595.8,335.1 596.4,335.4 596.8,335.0 597.8,335.6 598.6,334.7 599.2,335.2 599.4,334.9 599.6,335.0 599.8,335.3 600,335.2 600.6,335.6 601,335.3 601.2,335.5 601.6,335.3 601.8,335.6 602.4,335.3 603,335.4 603.8,333.9 604,333.8 604.2,334.2 604.6,334.3 605,335.3 606,334.7 606.2,334.9 606.8,334.7 607.4,334.8 608,334.7 608.4,335.4 608.6,335.1 608.8,335.2 609.2,334.7 610,335.2 610.2,335.0 610.6,333.4 610.8,333.4 611.6,331.6 612,329.8 612.2,329.7 613,334.0 613.4,335.0 614,334.6 614.4,332.8 614.6,332.8 615.4,335.1 615.6,335.2 615.8,335.1 616,334.4 616.6,330.4 617,329.5 617.6,333.5 618,334.7 619.4,334.7 619.8,334.4 620.6,334.5 621,335.1 621.2,334.9 621.6,335.1 622,334.7 622.2,335.1 622.4,334.9 623.2,335.4 623.8,334.8 624.2,335.0 624.4,334.7 625.4,334.8 625.8,334.5 626.6,335.2 627.4,334.7 628,334.9 628.2,334.7 628.4,334.9 629.2,334.7 629.6,335.1 630.4,335.4 631,335.3 631.8,335.8 632.4,334.9 632.6,335.2 633.6,335.1 634.2,333.9 634.6,334.1 635.2,334.9 635.6,334.5 636,334.4 636.2,334.5 636.4,334.4 637.4,335.3 638.4,334.8 638.8,335.1 639.4,334.8 640.4,335.7 640.8,335.3 641.4,335.8 641.8,335.1 642.2,334.8 642.4,335.1 643,334.8 643.2,335.0 644.2,334.5 644.4,334.9 645,334.7 645.2,334.9 645.4,334.7 646.2,334.9 646.4,335.2 646.6,335.0 646.8,335.2 647.6,334.3 648,334.1 648.4,334.4 648.8,335.1 649,335.0 649.8,335.7 650.6,334.9 651.2,334.0 651.4,334.3 652.4,335.0 653,334.8 654.4,335.6 654.8,335.6 655.2,334.8 655.4,335.0 656,334.9 656.4,335.2 657,334.7 657.4,334.7 658.4,335.3 658.6,335.2 658.8,334.8 659.2,334.6 659.4,334.8 659.6,334.7 660.6,335.7 661,335.3 661.2,334.8 661.6,335.1 662,334.9 662.2,335.3 662.6,334.9 663,335.4 663.2,335.2 663.6,335.5 664.4,335.3 664.6,335.0 664.8,335.1 665.6,334.6 666,335.2 666.2,335.0 666.6,335.4 667.6,335.8 668,335.3 668.8,334.9 669,334.9 669.4,335.5 670.2,335.0 670.8,335.6 671.4,335.1 671.6,335.3 671.8,335.0 672.6,335.2 672.8,335.5 673.2,335.2 673.8,333.9 674.2,333.6 675.2,335.1 675.8,335.2 676.4,334.4 677,335.6 677.6,335.1 678.4,335.5 678.6,335.1 679,335.6 679.4,335.4 680.4,335.9 681.4,334.8 681.6,334.8 681.8,335.1 682.2,334.9 682.8,335.0 683.4,334.6 684,335.3 684.2,335.1 684.6,335.5 684.8,335.4 685,335.6 685.8,334.7 686.2,334.5 687,335.4 687.6,335.3 688,335.6 688.6,335.1 689.2,335.4 689.4,335.0 690,334.7 691.2,335.6 692,335.0 692.6,335.0 693,335.4 693.4,335.2 694,335.5 695.4,334.4 696,334.8 696.4,334.6 696.6,335.0 696.8,334.8 697.2,335.2 697.8,334.8 698.6,335.2 699.4,335.3 700.2,333.0 700.6,334.3 700.8,334.2 701,333.7 701.6,335.0 701.8,334.9 702,335.2 702.2,334.7 702.6,334.7 702.8,335.2 703.4,335.3 703.8,335.7 704.4,335.2 704.8,335.7 705.6,335.3 707,334.2 707.2,334.5 707.6,334.4 708.8,335.6 709.2,335.6 709.6,335.0 710.4,335.4 711,335.1 711.4,335.5 711.8,335.0 712.2,335.1 712.8,335.6 713.2,335.1 713.6,335.4 714.2,334.9 715.2,335.1 715.6,334.9 715.8,335.1 716.4,335.0 716.6,334.7 716.8,335.0 718.4,335.1 719.4,335.8 720,336.0 720.2,335.7 721,335.7 721.8,335.0 722,335.2" fill="none" stroke="#000" stroke-width="1.15" stroke-linejoin="round"/>
<path d="M434,425.0 434.2,424.9 434.4,425.1 435.2,425.3 435.4,425.2 435.6,425.4 436,425.0 436.4,425.4 436.6,425.1 437,425.3 437.4,425.1 437.6,425.3 438.4,424.6 438.8,425.1 439.2,425.1 439.6,424.8 440.2,424.9 440.8,424.5 441.4,424.7 441.8,424.3 442,424.5 442.4,424.3 442.8,423.7 443,423.6 443.2,423.7 443.6,423.3 444,421.5 444.8,423.3 445,423.4 445.4,423.2 445.8,423.8 446.2,423.7 446.6,424.1 447,424.1 448,424.6 448.2,424.3 448.4,424.4 449.6,424.1 450,423.6 450.4,424.2 450.8,424.2 451.4,425.2 451.8,425.1 452,424.8 452.2,425.1 452.6,424.8 452.8,425.0 453,424.7 453.6,425.1 454.2,424.8 454.4,425.1 455,424.7 455.6,425.6 456.2,425.0 457.2,425.4 457.8,425.1 458.8,425.9 459.8,425.3 460.2,425.7 460.4,425.4 461,425.8 461.6,425.0 461.8,425.3 462.2,425.1 462.4,425.3 463.2,425.2 463.4,425.5 464,425.7 464.4,425.4 464.8,425.7 465.6,424.9 466,425.0 466.2,424.8 466.6,425.1 466.8,424.9 467.8,425.8 468.6,425.0 468.8,425.2 469.6,425.3 469.8,425.5 470.2,425.5 470.6,425.1 471.2,425.2 471.8,425.6 472.4,425.0 472.6,425.3 473.2,424.7 473.4,425.1 474.2,424.5 475,425.1 475.2,424.8 475.8,425.4 476,425.1 476.4,425.6 477,425.3 478,425.5 479,424.0 479.4,424.2 480,425.2 480.6,424.8 481.8,424.9 482,425.3 482.4,425.0 482.8,425.3 483.2,425.2 483.6,424.7 483.8,425.1 484,424.9 484.2,425.1 484.6,424.8 485.2,425.3 485.6,424.8 486.2,425.5 486.4,425.2 487.6,425.7 487.8,425.2 488.4,425.2 488.6,424.9 489.2,425.6 489.6,425.8 490.2,425.0 490.4,425.2 491,425.3 491.4,424.8 492,425.6 492.6,425.8 493.2,425.0 493.4,425.3 493.6,425.1 494,425.2 494.4,424.9 495,425.3 495.2,425.0 495.6,425.3 496.4,424.9 496.8,425.3 497.2,425.0 497.4,425.3 497.6,425.0 497.8,425.2 498.4,425.3 498.8,425.5 499.2,425.2 499.6,425.1 499.8,425.2 501,424.6 502,425.4 502.4,425.2 503.2,425.3 503.6,425.0 504.4,425.0 504.6,424.8 505.2,425.0 505.4,424.8 505.8,424.9 506,425.1 506.4,424.6 507.2,425.5 507.8,425.2 508.2,425.3 508.6,425.1 508.8,425.3 509.2,425.0 510,425.6 510.4,425.6 510.8,425.2 511,425.4 511.2,425.2 511.4,425.3 511.6,425.2 512.2,425.6 512.4,425.3 512.6,425.5 513,425.1 513.4,425.6 513.6,425.2 513.8,425.3 514.8,424.3 515.4,424.6 515.6,424.3 515.8,424.3 516,424.7 516.2,424.6 516.8,425.3 517,425.3 517.4,424.0 517.6,423.9 518,424.2 518.4,425.2 518.8,425.3 519,424.9 519.2,425.0 519.6,424.8 520.2,425.3 520.4,425.0 520.8,425.5 521.2,425.7 521.4,425.3 522,424.9 522.8,425.6 523.2,425.1 523.6,425.5 524.6,425.1 525.2,425.4 525.4,425.1 525.8,425.1 526.4,424.8 527,425.2 527.6,424.7 528,424.6 528.6,423.8 529.4,425.4 529.8,425.0 530.4,425.3 530.8,424.7 531.2,425.2 531.6,425.4 532,425.0 532.4,425.3 532.6,425.1 533,425.2 533.2,424.9 533.4,425.2 533.6,425.0 534,425.3 535,424.3 535.6,423.0 536.4,424.5 537,424.8 537.4,424.4 537.8,425.1 538,424.6 538.2,424.6 538.6,424.0 539,423.8 539.8,424.9 540.2,425.0 540.4,424.9 540.8,425.1 541,425.0 541.6,425.1 541.8,424.9 542.8,425.4 543.8,425.2 544,424.9 545,420.2 545.2,420.5 545.8,423.8 546.2,425.0 547.2,425.4 547.8,424.9 548.2,425.2 548.6,424.6 549,423.3 549.2,423.2 549.6,425.0 549.8,425.5 550.2,425.8 550.4,425.5 551,425.2 551.2,425.3 551.4,425.1 551.8,425.4 552.2,425.1 552.4,425.2 552.8,424.8 553.2,425.1 553.8,424.7 554.4,425.2 554.6,425.1 554.8,425.4 555,425.2 555.4,425.5 555.6,425.6 556,424.6 557.6,425.4 557.8,425.2 558.2,425.5 559.2,424.5 559.8,424.7 560,425.1 561,424.6 561.2,424.8 562.2,424.0 562.6,424.5 563.2,423.6 564,424.9 564.2,425.1 564.4,424.9 564.8,425.4 565.2,425.0 565.6,425.2 566.4,425.0 566.8,425.3 567,425.3 567.4,425.7 568.2,424.9 568.4,425.0 568.6,424.8 568.8,425.0 569.2,425.1 569.6,424.1 569.8,424.3 570,425.2 570.6,425.8 571,425.9 571.2,425.6 571.4,425.7 572,424.9 572.4,425.2 573,424.6 573.4,425.1 573.6,425.1 573.8,425.3 574,425.3 574.2,425.0 574.4,425.3 574.8,425.1 575.2,425.6 575.4,425.4 575.6,425.5 576.2,423.5 576.6,419.8 577.4,405.7 577.6,404.7 578,406.4 578.4,391.9 578.6,391.7 579.4,418.6 580,414.5 580.4,416.4 581.2,423.9 582,425.2 582.6,425.3 584,425.9 584.2,425.6 584.4,425.8 584.6,425.7 585.8,426.1 586.2,425.6 587.2,425.3 587.4,425.4 587.8,425.2 588,425.5 588.6,425.7 589,425.5 589.2,425.2 590.4,425.3 590.6,425.0 591,425.5 591.4,425.5 592,425.2 592.4,425.3 593,424.4 593.6,425.2 594.4,425.2 594.6,425.0 594.8,425.3 595.2,425.2 595.4,425.5 596.2,425.1 597,424.5 597.2,424.7 597.8,424.8 598.2,425.4 598.4,425.2 599,425.5 599.6,425.2 600.2,425.3 600.4,425.2 600.6,425.5 601.2,425.0 601.4,425.0 602.2,424.5 602.8,425.3 603.8,424.4 604.2,424.9 604.8,424.9 605,425.1 605.8,424.7 606.4,425.5 607.4,425.2 607.8,425.5 608.2,425.4 608.6,425.7 609.2,425.3 609.4,425.5 609.8,424.8 610.2,423.2 611,410.6 611.2,410.6 611.8,422.5 612,424.4 612.4,425.3 612.8,425.2 613.4,424.0 613.6,424.0 614.2,424.3 614.6,425.1 614.8,424.9 615.2,425.0 615.6,424.5 615.8,424.7 616.2,424.6 616.8,424.9 617,424.6 617.2,424.9 618,424.8 618.2,425.2 618.6,425.1 618.8,425.3 619,425.0 619.2,425.1 619.4,424.8 620.8,425.6 621.4,424.7 622.8,424.5 623.4,425.3 624,424.9 624.2,425.0 624.6,424.7 625.4,424.5 625.8,424.9 626.2,424.9 626.6,425.5 627.2,425.0 627.4,425.0 627.6,425.3 627.8,425.0 628.2,425.3 628.4,425.0 628.6,425.1 628.8,424.9 629.8,424.7 630.4,425.3 630.8,425.0 631.6,425.3 632.6,424.6 633.4,424.8 634.2,424.4 634.8,424.9 635.2,424.6 635.4,425.0 635.8,425.0 636.6,425.6 637.2,425.1 637.4,425.2 637.8,424.5 638.4,425.3 639.2,424.9 639.4,425.2 639.6,425.0 639.8,425.3 640.2,425.0 640.6,425.5 640.8,425.2 641,425.5 642,424.9 642.2,425.1 642.6,425.2 642.8,425.0 643.8,425.6 644.2,425.6 644.6,425.2 644.8,425.4 645,425.3 645.4,425.6 645.6,425.3 645.8,425.4 646.6,425.0 647.4,425.4 647.6,425.3 648,425.3 648.4,425.7 648.6,425.4 648.8,425.4 649,425.1 649.2,425.2 649.6,424.8 650.2,425.4 650.8,424.9 651,425.1 651.8,424.8 652.4,425.3 652.8,425.2 653.2,425.7 653.6,425.8 653.8,425.5 654.2,425.6 654.6,425.2 655.6,426.0 655.8,425.7 656.4,425.8 657,425.3 657.4,425.7 657.8,425.4 658,425.5 658.8,424.9 659.4,425.4 660,425.4 660.8,425.7 661.6,424.3 661.8,424.9 662.4,425.5 663,424.9 663.8,425.5 664,425.4 664.2,425.5 665,425.0 665.4,425.2 665.8,424.8 666.6,425.7 667.2,425.8 668,425.6 669,424.7 669.6,425.1 670.4,424.7 670.6,425.1 671.4,425.3 672,424.8 672.8,424.6 673.4,425.3 673.8,424.9 674.2,424.9 674.4,425.2 675,425.3 675.4,424.8 675.8,425.3 676.4,425.0 676.8,425.1 677.2,424.6 677.6,425.3 677.8,425.1 678,425.3 678.8,424.7 679.8,425.0 680.4,424.7 680.8,424.8 681.2,425.4 681.4,425.2 681.6,425.4 682.2,424.2 682.4,424.1 683.2,425.4 683.6,425.3 684,425.4 684.6,424.5 685,424.8 685.4,424.8 685.6,425.2 686,425.4 686.4,425.0 687,424.7 687.2,424.9 687.4,424.8 688,424.9 688.4,424.5 689,425.2 689.4,425.0 689.8,425.4 690.2,425.2 690.4,425.5 691,424.9 691.8,425.5 692,425.2 692.4,425.6 693,425.0 693.8,424.5 694.2,425.1 695,425.3 695.4,425.7 695.8,425.5 696.4,425.8 696.8,425.3 697.4,425.7 698,425.1 698.6,424.9 699,425.3 699.6,424.2 699.8,424.2 700,424.6 701,425.4 701.2,425.3 701.4,425.5 702,424.7 702.8,425.7 703.2,425.7 703.6,425.2 704.2,425.2 704.6,425.4 704.8,425.2 705.4,423.9 705.6,423.8 705.8,424.5 706.2,425.0 706.6,424.8 707.2,425.3 708.2,424.5 709.2,425.7 709.8,425.1 710,425.3 710.2,425.2 710.4,425.4 710.6,425.2 710.8,425.3 711.4,425.1 711.8,425.4 712,425.1 712.4,425.4 712.8,425.0 713.2,425.5 713.6,425.7 714,425.3 714.6,425.6 714.8,425.3 715.2,425.4 715.4,425.3 715.6,425.5 716,425.5 716.4,425.0 716.6,425.1 716.8,424.7 717.2,425.1 717.4,425.0 718,425.7 718.2,425.3 719,424.9 719.4,425.2 719.8,425.0 720.2,425.5 720.6,425.6 721.2,425.4 721.4,425.2 721.6,425.4 721.8,425.3 722,425.4" fill="none" stroke="#000" stroke-width="1.15" stroke-linejoin="round"/>
<path d="M434,494.6 434.4,492.2 434.8,491.7 435.2,492.0 435.4,492.0 435.8,494.6 436,494.4 437,511.1 437.4,513.8 438.2,512.8 438.4,512.1 439.2,506.6 439.8,504.9 440.2,506.0 441.6,513.1 442.2,513.7 442.6,513.5 443,513.8 443.6,513.5 444.2,514.2 445.2,513.6 445.4,513.9 445.8,514.0 446,513.8 446.4,514.1 446.8,513.7 447,514.0 447.4,513.8 447.8,514.2 448.6,513.5 448.8,513.6 449.2,513.4 449.4,513.7 450,513.2 450.2,513.4 450.8,513.4 451.2,513.9 451.8,513.2 452,513.3 452.2,513.5 452.8,513.5 453.4,514.3 453.8,514.4 454,514.4 454.4,513.8 454.6,514.1 455.4,514.3 456.4,513.2 457,513.7 457.4,513.4 457.6,513.6 458.2,513.4 458.6,514.1 458.8,513.8 459.2,514.3 459.8,513.6 460,513.7 460.6,513.3 461.2,513.5 461.4,513.4 462.2,514.0 462.6,514.0 463,513.5 463.2,513.6 463.6,513.4 464,513.6 464.4,513.4 464.8,514.0 465.2,514.0 465.4,513.9 466,512.1 466.4,511.6 466.6,511.7 467.6,514.1 467.8,513.8 468.4,514.2 468.8,513.7 469.2,513.6 469.6,514.1 470,514.2 470.6,513.4 471,513.3 471.6,512.4 472,513.3 473,514.0 473.2,514.1 473.4,513.9 473.8,513.9 474.4,513.5 474.6,513.7 475.4,513.9 476,513.4 476.6,513.4 476.8,513.5 477.2,513.1 477.4,513.3 477.6,513.1 478,513.4 478.4,512.9 479,513.0 479.4,512.8 479.6,513.0 480.4,511.9 481.2,512.8 481.4,512.6 481.6,512.8 482.2,512.2 482.4,512.5 482.8,512.6 483,512.8 484,511.8 484.4,512.3 485.4,512.1 485.8,512.5 486.2,512.1 486.6,511.0 487.2,510.4 487.4,510.5 487.8,511.8 488.2,512.4 488.6,512.3 489,512.7 489.4,512.6 490.2,511.6 490.6,512.0 490.8,511.7 491.4,512.5 492.2,512.2 492.8,512.5 493.4,512.2 494,512.7 494.4,512.3 494.8,512.5 495.2,512.1 495.6,512.4 496.2,511.7 496.8,512.0 497.4,511.2 498,509.5 498.4,510.8 498.8,510.8 499.2,511.5 499.4,511.2 499.8,511.4 500,510.8 500.2,511.0 500.4,510.8 501.2,511.7 501.4,511.6 501.8,512.0 502.2,511.7 502.4,511.9 503.4,509.9 503.6,509.9 504,511.5 504.4,512.1 504.6,512.1 505.2,512.8 505.6,512.7 505.8,513.0 506.4,513.3 506.8,513.1 507.2,513.5 507.8,513.2 508.4,513.7 509.2,513.1 510.4,513.1 510.6,513.3 511,513.3 511.6,514.0 512.2,513.9 512.4,514.1 512.8,513.7 513,513.9 513.2,513.7 513.6,514.1 514,513.7 514.4,514.1 515,513.4 515.2,513.6 515.6,513.2 516.2,513.2 516.8,513.7 517,513.5 517.4,513.7 517.6,513.5 518,513.9 518.4,513.5 518.6,513.7 518.8,513.4 519,513.5 519.8,513.0 520.2,513.3 520.4,513.1 520.6,513.3 520.8,513.0 521,513.2 521.6,512.5 522.2,513.0 522.6,513.0 523,512.4 523.8,513.2 524.6,512.7 525.4,513.4 526.2,513.2 526.4,512.9 527,513.3 527.4,513.0 527.8,513.2 528.2,512.9 529,513.2 529.8,512.0 530.2,512.2 530.4,512.7 531,512.6 531.4,511.8 531.6,511.8 532,512.5 532.4,512.4 532.8,512.8 533.6,512.3 533.8,512.6 534.4,512.7 534.8,512.4 535,512.5 535.4,512.1 535.6,512.5 535.8,512.3 536.2,512.3 536.6,512.8 537.4,512.8 538.4,513.2 538.8,512.8 539.4,513.0 539.6,513.3 540,513.1 540.2,513.3 540.4,513.1 541,513.4 541.4,512.8 541.8,512.6 542.2,512.9 542.8,512.7 543.2,513.1 543.6,513.2 545,512.3 545.4,512.8 545.6,512.6 546,512.6 546.4,512.1 546.6,512.3 546.8,512.1 547.2,512.6 548,511.8 548.6,512.5 549.4,512.6 549.6,512.8 550.6,511.2 550.8,511.1 551.4,512.0 551.8,512.1 552.8,510.9 553.6,512.2 553.8,512.2 554.2,512.5 554.4,512.3 554.6,512.6 555.4,511.5 555.8,511.5 556.6,512.1 557,512.8 557.4,512.8 557.8,513.1 558.2,512.7 558.4,513.0 559,513.1 559.2,512.8 559.6,512.9 560,512.4 560.6,512.2 561.2,512.8 561.6,512.9 562.2,512.9 562.4,512.5 563,512.9 563.4,512.7 563.8,513.2 564,513.0 564.4,513.0 564.6,512.8 564.8,513.1 565,512.9 565.2,513.1 566,512.5 566.8,513.0 567.4,512.4 568.4,513.8 569.4,513.5 569.8,513.1 570.6,513.6 571.2,513.3 572,513.6 572.6,513.1 573,513.2 573.6,511.9 573.8,511.8 574.8,513.6 575.4,513.7 575.8,514.2 576,513.9 576.4,514.2 576.8,514.0 577,514.1 577.6,513.4 578.2,513.7 578.6,513.4 578.8,513.5 579,513.4 579.4,513.7 579.8,513.8 580,513.5 580.4,513.7 581,514.4 581.4,513.9 582,514.5 582.6,514.1 582.8,514.0 583,514.1 583.2,513.9 584.4,514.4 585.2,513.9 585.4,514.2 585.6,513.8 586.2,514.3 586.8,513.8 587,514.1 587.2,514.2 587.4,514.1 587.6,514.3 588,514.1 588.6,514.3 588.8,514.1 589.2,514.4 589.8,513.7 590,513.8 590.4,513.6 591,512.5 591.8,513.0 592,513.0 592.4,509.9 593.4,484.1 593.8,481.7 594.4,446.4 595,481.1 595.2,484.9 595.6,478.1 595.8,480.2 596.8,509.2 597,511.6 597.2,511.5 597.8,508.2 598.2,507.4 598.6,508.5 599.4,512.9 599.8,514.0 601,505.6 601.2,505.2 601.4,505.4 602.2,511.9 602.6,513.4 603.4,514.0 604.2,513.8 604.8,514.2 605,514.0 605.2,514.2 605.6,513.9 606.2,513.7 606.6,514.1 607.6,513.0 608.2,514.0 609,514.3 609.6,514.1 610,514.4 610.8,513.5 611.4,514.2 612,513.6 613.2,513.9 613.8,513.6 614,513.8 614.4,513.5 615,514.3 616.4,513.8 616.6,514.0 616.8,514.0 617.4,513.6 617.6,513.8 618.2,513.9 618.6,513.2 619.6,514.4 620.4,513.4 620.8,513.2 621.2,513.8 621.4,513.8 621.8,513.3 622.2,513.5 622.6,513.3 623,513.6 623.2,513.4 623.4,513.7 624,513.5 624.2,513.8 624.8,513.6 625.2,514.1 625.8,514.3 626,514.1 626.4,514.3 626.8,514.1 627.4,514.1 627.6,513.9 627.8,514.1 628.2,513.6 628.4,514.0 628.6,513.7 629.8,514.3 630,514.0 630.6,513.9 630.8,513.6 631.2,513.8 631.8,513.1 632.2,513.7 632.4,513.5 632.6,513.8 632.8,513.8 633.4,512.4 634,514.1 634.2,514.0 634.4,514.2 634.6,513.9 636.4,514.9 636.8,514.2 637.4,514.0 637.8,514.5 638.2,513.9 638.6,514.3 639,514.1 639.2,514.3 639.6,513.9 640.2,514.3 641.2,513.6 641.8,514.2 642,514.0 642.4,514.3 642.8,514.1 643.4,513.1 644,513.6 644.4,513.6 644.6,513.3 644.8,513.5 646,511.0 646.4,511.2 647.2,513.6 648.2,513.5 649,514.2 650,513.3 650.8,511.3 651.2,511.1 652.2,513.6 652.4,513.6 653,514.4 653.2,514.4 653.8,512.6 654.8,513.8 655,513.7 655.2,514.0 655.6,513.7 656.2,512.2 656.8,514.1 657.2,514.4 657.4,514.1 658.4,514.1 658.8,513.3 659.4,514.0 659.8,513.7 660.4,514.1 660.8,513.8 661.2,514.2 661.4,513.8 661.6,514.0 661.8,513.9 662,513.5 662.2,513.9 662.4,513.8 663,514.3 664,514.6 664.6,514.1 665.4,512.0 666.2,513.6 666.6,513.1 666.8,513.5 667.4,513.8 668.2,512.7 668.6,513.6 668.8,513.7 669.2,513.4 669.6,514.0 670.4,513.8 671,513.3 671.4,513.4 671.6,513.7 672,513.6 672.8,512.1 673,512.2 673.4,513.5 673.6,513.2 674.2,513.2 675,514.1 676.4,514.6 676.8,513.9 677.6,513.4 678,513.9 678.4,513.5 679,514.3 679.2,513.9 679.6,514.0 680,513.7 680.6,514.2 681.4,513.8 681.8,514.0 682,513.8 682.2,514.0 683.6,513.3 684,513.6 684.2,513.4 684.6,513.8 684.8,513.5 685,513.7 685.6,513.3 685.8,513.4 686.2,512.5 687,514.0 687.6,514.5 688.2,514.2 688.6,513.7 689.2,514.1 689.4,513.9 689.8,513.9 690,514.1 690.4,513.6 690.8,514.1 691,513.9 691.2,514.1 691.6,513.6 692,514.2 692.4,514.3 693,513.6 693.4,513.9 694.2,513.8 694.8,514.1 695,513.8 695.2,513.9 695.8,512.9 696.6,513.9 697,513.5 697.4,513.9 697.8,513.5 698.6,514.0 699.2,513.5 699.6,513.9 700.4,513.5 701.2,514.3 701.6,513.8 701.8,514.1 702,513.9 702.2,514.1 702.4,513.9 702.6,514.1 702.8,513.8 703.2,514.1 703.6,514.0 704,514.3 704.6,514.0 705.4,511.9 705.6,512.0 706.4,513.9 706.6,513.4 707.2,512.8 708,513.9 708.4,513.9 708.8,513.5 709,513.6 709.4,513.5 710,514.0 710.2,513.8 710.6,514.2 712,511.7 712.2,511.7 712.8,513.6 713.4,514.3 713.6,514.4 714,514.0 714.2,514.2 714.4,514.0 714.6,514.2 715.4,513.6 715.8,513.7 716,513.4 716.8,514.0 717.2,513.7 717.8,514.0 718.4,513.6 718.8,514.0 719.4,513.9 719.6,514.2 720,514.2 720.2,514.4 721.2,513.5 721.8,514.1 722,514.0" fill="none" stroke="#000" stroke-width="1.15" stroke-linejoin="round"/>
<line x1="200.40" y1="272.30" x2="200.90" y2="279.50" stroke="#000" stroke-width="1.2" />
<line x1="208.50" y1="272.30" x2="215.00" y2="279.30" stroke="#000" stroke-width="1.2" />
<line x1="221.30" y1="272.30" x2="215.00" y2="279.30" stroke="#000" stroke-width="1.2" />
<line x1="200.90" y1="279.50" x2="208.00" y2="286.00" stroke="#000" stroke-width="1.2" />
<line x1="215.00" y1="279.30" x2="208.00" y2="286.00" stroke="#000" stroke-width="1.2" />
<line x1="208.50" y1="286.00" x2="208.50" y2="295.10" stroke="#000" stroke-width="1.1" />
<line x1="208.50" y1="295.10" x2="208.50" y2="303.60" stroke="#000" stroke-width="1.1" />
<line x1="208.50" y1="303.60" x2="208.50" y2="308.60" stroke="#000" stroke-width="1.1" />
<circle cx="209.80" cy="261.60" r="2.75" fill="#00f000" stroke="#000" stroke-width="1.0"/>
<circle cx="200.40" cy="272.30" r="2.75" fill="#00f000" stroke="#000" stroke-width="1.0"/>
<circle cx="208.50" cy="272.30" r="2.75" fill="#00f000" stroke="#000" stroke-width="1.0"/>
<circle cx="221.30" cy="272.30" r="2.75" fill="#00f000" stroke="#000" stroke-width="1.0"/>
<circle cx="200.90" cy="279.50" r="2.75" fill="#00f000" stroke="#000" stroke-width="1.0"/>
<circle cx="215.00" cy="279.30" r="2.75" fill="#00f000" stroke="#000" stroke-width="1.0"/>
<circle cx="208.00" cy="286.00" r="2.75" fill="#00f000" stroke="#000" stroke-width="1.0"/>
<rect x="205.35" y="292.45" width="5.3" height="5.3" fill="#0000f0" stroke="#000" stroke-width="1.0"/>
<rect x="205.35" y="300.95" width="5.3" height="5.3" fill="#0000f0" stroke="#000" stroke-width="1.0"/>
<line x1="197.10" y1="266.40" x2="222.00" y2="266.40" stroke="#000" stroke-width="1.1" />
<line x1="208.00" y1="308.60" x2="185.40" y2="328.40" stroke="#000" stroke-width="1.2" />
<text transform="translate(173.52,270.26) scale(1.0612,1)" font-size="9.15" font-weight="400" fill="#000"  stroke="#000" stroke-width="0.5" stroke-linejoin="round">1678</text>
<line x1="178.90" y1="272.40" x2="192.40" y2="272.40" stroke="#000" stroke-width="1.1" />
<line x1="183.60" y1="272.40" x2="183.60" y2="275.00" stroke="#000" stroke-width="1.0" />
<line x1="175.50" y1="353.10" x2="175.50" y2="361.10" stroke="#000" stroke-width="1.1" />
<line x1="196.50" y1="353.10" x2="196.50" y2="361.10" stroke="#000" stroke-width="1.1" />
<line x1="175.50" y1="361.10" x2="175.50" y2="368.50" stroke="#000" stroke-width="1.1" />
<line x1="183.10" y1="361.10" x2="189.90" y2="368.50" stroke="#000" stroke-width="1.2" />
<line x1="196.10" y1="361.10" x2="189.90" y2="368.50" stroke="#000" stroke-width="1.2" />
<line x1="175.50" y1="368.50" x2="182.60" y2="375.00" stroke="#000" stroke-width="1.2" />
<line x1="189.90" y1="368.50" x2="182.60" y2="375.00" stroke="#000" stroke-width="1.2" />
<line x1="182.50" y1="375.00" x2="182.50" y2="383.70" stroke="#000" stroke-width="1.1" />
<line x1="182.50" y1="383.70" x2="182.50" y2="391.80" stroke="#000" stroke-width="1.1" />
<line x1="182.50" y1="391.80" x2="182.50" y2="396.50" stroke="#000" stroke-width="1.1" />
<circle cx="175.50" cy="353.10" r="2.75" fill="#00f000" stroke="#000" stroke-width="1.0"/>
<circle cx="196.10" cy="353.10" r="2.75" fill="#00f000" stroke="#000" stroke-width="1.0"/>
<circle cx="175.50" cy="361.10" r="2.75" fill="#00f000" stroke="#000" stroke-width="1.0"/>
<circle cx="183.10" cy="361.10" r="2.75" fill="#00f000" stroke="#000" stroke-width="1.0"/>
<circle cx="196.10" cy="361.10" r="2.75" fill="#00f000" stroke="#000" stroke-width="1.0"/>
<circle cx="175.50" cy="368.50" r="2.75" fill="#00f000" stroke="#000" stroke-width="1.0"/>
<circle cx="189.90" cy="368.50" r="2.75" fill="#00f000" stroke="#000" stroke-width="1.0"/>
<circle cx="182.60" cy="375.00" r="2.75" fill="#00f000" stroke="#000" stroke-width="1.0"/>
<rect x="179.95" y="381.05" width="5.3" height="5.3" fill="#0000f0" stroke="#000" stroke-width="1.0"/>
<rect x="179.95" y="389.15" width="5.3" height="5.3" fill="#0000f0" stroke="#000" stroke-width="1.0"/>
<line x1="182.40" y1="396.50" x2="210.90" y2="416.00" stroke="#000" stroke-width="1.2" />
<text transform="translate(202.34,368.16) scale(1.0329,1)" font-size="9.15" font-weight="400" fill="#000"  stroke="#000" stroke-width="0.5" stroke-linejoin="round">1840</text>
<line x1="207.10" y1="371.00" x2="219.20" y2="371.00" stroke="#000" stroke-width="1.1" />
<line x1="212.40" y1="371.00" x2="212.40" y2="373.00" stroke="#000" stroke-width="1.0" />
<line x1="258.50" y1="447.60" x2="258.50" y2="455.70" stroke="#000" stroke-width="1.1" />
<line x1="279.50" y1="447.60" x2="279.50" y2="455.70" stroke="#000" stroke-width="1.1" />
<line x1="258.50" y1="455.70" x2="258.50" y2="463.10" stroke="#000" stroke-width="1.1" />
<line x1="266.00" y1="455.70" x2="272.70" y2="463.10" stroke="#000" stroke-width="1.2" />
<line x1="279.00" y1="455.70" x2="272.70" y2="463.10" stroke="#000" stroke-width="1.2" />
<line x1="258.10" y1="463.10" x2="265.50" y2="468.70" stroke="#000" stroke-width="1.2" />
<line x1="272.70" y1="463.10" x2="265.50" y2="468.70" stroke="#000" stroke-width="1.2" />
<line x1="265.50" y1="468.70" x2="265.50" y2="478.20" stroke="#000" stroke-width="1.1" />
<line x1="265.50" y1="478.20" x2="265.50" y2="486.40" stroke="#000" stroke-width="1.1" />
<line x1="265.50" y1="486.40" x2="265.50" y2="492.30" stroke="#000" stroke-width="1.1" />
<circle cx="267.60" cy="437.10" r="2.75" fill="#00f000" stroke="#000" stroke-width="1.0"/>
<circle cx="258.10" cy="447.60" r="2.75" fill="#00f000" stroke="#000" stroke-width="1.0"/>
<circle cx="279.00" cy="447.60" r="2.75" fill="#00f000" stroke="#000" stroke-width="1.0"/>
<circle cx="258.10" cy="455.70" r="2.75" fill="#00f000" stroke="#000" stroke-width="1.0"/>
<circle cx="266.00" cy="455.70" r="2.75" fill="#00f000" stroke="#000" stroke-width="1.0"/>
<circle cx="279.00" cy="455.70" r="2.75" fill="#00f000" stroke="#000" stroke-width="1.0"/>
<circle cx="258.10" cy="463.10" r="2.75" fill="#00f000" stroke="#000" stroke-width="1.0"/>
<circle cx="272.70" cy="463.10" r="2.75" fill="#00f000" stroke="#000" stroke-width="1.0"/>
<circle cx="265.50" cy="468.70" r="2.75" fill="#00f000" stroke="#000" stroke-width="1.0"/>
<rect x="262.85" y="475.55" width="5.3" height="5.3" fill="#0000f0" stroke="#000" stroke-width="1.0"/>
<rect x="262.85" y="483.75" width="5.3" height="5.3" fill="#0000f0" stroke="#000" stroke-width="1.0"/>
<line x1="254.90" y1="442.20" x2="279.70" y2="442.20" stroke="#000" stroke-width="1.1" />
<line x1="265.50" y1="492.30" x2="242.00" y2="506.20" stroke="#000" stroke-width="1.2" />
<text transform="translate(229.69,453.56) scale(1.0616,1)" font-size="8.73" font-weight="400" fill="#000"  stroke="#000" stroke-width="0.5" stroke-linejoin="round">2002</text>
<line x1="233.60" y1="456.90" x2="246.80" y2="456.90" stroke="#000" stroke-width="1.1" />
<line x1="239.30" y1="456.90" x2="239.30" y2="458.00" stroke="#000" stroke-width="1.0" />
<text transform="translate(201.94,488.97) scale(1.1380,1)" font-size="8.31" font-weight="400" fill="#000"  stroke="#000" stroke-width="0.5" stroke-linejoin="round">1840</text>
<line x1="207.00" y1="491.60" x2="219.90" y2="491.60" stroke="#000" stroke-width="1.1" />
<line x1="211.40" y1="491.60" x2="211.40" y2="500.00" stroke="#000" stroke-width="1.0" />
<text transform="translate(543.99,261.70) scale(0.9831,1)" font-size="10.43" font-weight="700" fill="#000"  stroke="#000" stroke-width="0.2" stroke-linejoin="round">–P</text>
<line x1="538.60" y1="264.50" x2="561.70" y2="264.50" stroke="#000" stroke-width="1.1" />
<line x1="541.50" y1="269.90" x2="541.50" y2="277.30" stroke="#000" stroke-width="1.1" />
<line x1="562.50" y1="269.90" x2="562.50" y2="277.30" stroke="#000" stroke-width="1.1" />
<line x1="541.50" y1="277.30" x2="541.50" y2="284.40" stroke="#000" stroke-width="1.1" />
<line x1="549.60" y1="277.30" x2="555.70" y2="284.40" stroke="#000" stroke-width="1.2" />
<line x1="562.00" y1="277.30" x2="555.70" y2="284.40" stroke="#000" stroke-width="1.2" />
<line x1="541.90" y1="284.40" x2="548.90" y2="290.40" stroke="#000" stroke-width="1.2" />
<line x1="555.70" y1="284.40" x2="548.90" y2="290.40" stroke="#000" stroke-width="1.2" />
<line x1="548.50" y1="290.40" x2="548.50" y2="299.50" stroke="#000" stroke-width="1.1" />
<line x1="548.50" y1="299.50" x2="548.50" y2="307.60" stroke="#000" stroke-width="1.1" />
<line x1="548.50" y1="307.60" x2="548.50" y2="313.00" stroke="#000" stroke-width="1.1" />
<circle cx="541.90" cy="269.90" r="2.75" fill="#00f000" stroke="#000" stroke-width="1.0"/>
<circle cx="562.00" cy="269.90" r="2.75" fill="#00f000" stroke="#000" stroke-width="1.0"/>
<circle cx="541.90" cy="277.30" r="2.75" fill="#00f000" stroke="#000" stroke-width="1.0"/>
<circle cx="549.60" cy="277.30" r="2.75" fill="#00f000" stroke="#000" stroke-width="1.0"/>
<circle cx="562.00" cy="277.30" r="2.75" fill="#00f000" stroke="#000" stroke-width="1.0"/>
<circle cx="541.90" cy="284.40" r="2.75" fill="#00f000" stroke="#000" stroke-width="1.0"/>
<circle cx="555.70" cy="284.40" r="2.75" fill="#00f000" stroke="#000" stroke-width="1.0"/>
<circle cx="548.90" cy="290.40" r="2.75" fill="#00f000" stroke="#000" stroke-width="1.0"/>
<rect x="546.25" y="296.85" width="5.3" height="5.3" fill="#0000f0" stroke="#000" stroke-width="1.0"/>
<rect x="546.25" y="304.95" width="5.3" height="5.3" fill="#0000f0" stroke="#000" stroke-width="1.0"/>
<line x1="552.30" y1="313.90" x2="578.50" y2="321.70" stroke="#000" stroke-width="1.2" />
<text transform="translate(568.23,267.57) scale(1.1299,1)" font-size="8.45" font-weight="400" fill="#000"  stroke="#000" stroke-width="0.5" stroke-linejoin="round">1919</text>
<line x1="573.20" y1="270.20" x2="586.20" y2="270.20" stroke="#000" stroke-width="1.1" />
<line x1="579.20" y1="270.20" x2="579.20" y2="300.00" stroke="#000" stroke-width="1.0" />
<polygon points="585.00,287.80 586.29,291.02 589.76,291.25 587.09,293.48 587.94,296.85 585.00,295.00 582.06,296.85 582.91,293.48 580.24,291.25 583.71,291.02" fill="#000"/>
<text transform="translate(539.97,352.70) scale(0.9993,1)" font-size="10.87" font-weight="700" fill="#000"  stroke="#000" stroke-width="0.2" stroke-linejoin="round">–P</text>
<line x1="534.50" y1="354.10" x2="558.80" y2="354.10" stroke="#000" stroke-width="1.1" />
<line x1="538.50" y1="359.90" x2="538.50" y2="367.60" stroke="#000" stroke-width="1.1" />
<line x1="558.50" y1="359.90" x2="558.50" y2="367.60" stroke="#000" stroke-width="1.1" />
<line x1="538.50" y1="367.60" x2="538.50" y2="374.70" stroke="#000" stroke-width="1.1" />
<line x1="545.80" y1="367.60" x2="552.00" y2="374.70" stroke="#000" stroke-width="1.2" />
<line x1="558.40" y1="367.60" x2="552.00" y2="374.70" stroke="#000" stroke-width="1.2" />
<line x1="538.20" y1="374.70" x2="545.30" y2="380.80" stroke="#000" stroke-width="1.2" />
<line x1="552.00" y1="374.70" x2="545.30" y2="380.80" stroke="#000" stroke-width="1.2" />
<line x1="545.50" y1="380.80" x2="545.50" y2="389.80" stroke="#000" stroke-width="1.1" />
<line x1="545.50" y1="389.80" x2="545.50" y2="397.60" stroke="#000" stroke-width="1.1" />
<line x1="545.50" y1="397.60" x2="545.50" y2="403.00" stroke="#000" stroke-width="1.1" />
<circle cx="538.20" cy="359.90" r="2.75" fill="#00f000" stroke="#000" stroke-width="1.0"/>
<circle cx="558.40" cy="359.90" r="2.75" fill="#00f000" stroke="#000" stroke-width="1.0"/>
<circle cx="538.20" cy="367.60" r="2.75" fill="#00f000" stroke="#000" stroke-width="1.0"/>
<circle cx="545.80" cy="367.60" r="2.75" fill="#00f000" stroke="#000" stroke-width="1.0"/>
<circle cx="558.40" cy="367.60" r="2.75" fill="#00f000" stroke="#000" stroke-width="1.0"/>
<circle cx="538.20" cy="374.70" r="2.75" fill="#00f000" stroke="#000" stroke-width="1.0"/>
<circle cx="552.00" cy="374.70" r="2.75" fill="#00f000" stroke="#000" stroke-width="1.0"/>
<circle cx="545.30" cy="380.80" r="2.75" fill="#00f000" stroke="#000" stroke-width="1.0"/>
<rect x="542.65" y="387.15" width="5.3" height="5.3" fill="#0000f0" stroke="#000" stroke-width="1.0"/>
<rect x="542.65" y="394.95" width="5.3" height="5.3" fill="#0000f0" stroke="#000" stroke-width="1.0"/>
<line x1="553.00" y1="403.60" x2="576.50" y2="417.40" stroke="#000" stroke-width="1.2" />
<text transform="translate(566.62,354.16) scale(1.1098,1)" font-size="8.73" font-weight="400" fill="#000"  stroke="#000" stroke-width="0.5" stroke-linejoin="round">1919</text>
<line x1="571.80" y1="356.80" x2="584.90" y2="356.80" stroke="#000" stroke-width="1.1" />
<line x1="578.50" y1="356.80" x2="578.50" y2="392.00" stroke="#000" stroke-width="1.0" />
<line x1="544.90" y1="456.60" x2="553.00" y2="456.60" stroke="#000" stroke-width="1.0" />
<line x1="570.50" y1="456.60" x2="578.50" y2="456.60" stroke="#000" stroke-width="1.0" />
<line x1="553.50" y1="449.20" x2="553.50" y2="456.60" stroke="#000" stroke-width="1.1" />
<line x1="570.50" y1="449.20" x2="570.50" y2="456.60" stroke="#000" stroke-width="1.1" />
<line x1="553.50" y1="456.60" x2="553.50" y2="464.00" stroke="#000" stroke-width="1.1" />
<line x1="560.10" y1="456.60" x2="565.40" y2="464.00" stroke="#000" stroke-width="1.2" />
<line x1="570.50" y1="456.60" x2="565.40" y2="464.00" stroke="#000" stroke-width="1.2" />
<line x1="553.00" y1="464.00" x2="559.30" y2="469.40" stroke="#000" stroke-width="1.2" />
<line x1="565.40" y1="464.00" x2="559.30" y2="469.40" stroke="#000" stroke-width="1.2" />
<line x1="559.50" y1="469.40" x2="559.50" y2="477.50" stroke="#000" stroke-width="1.1" />
<line x1="559.50" y1="477.50" x2="559.50" y2="484.90" stroke="#000" stroke-width="1.1" />
<line x1="559.50" y1="484.90" x2="559.50" y2="489.30" stroke="#000" stroke-width="1.1" />
<circle cx="553.00" cy="449.20" r="2.75" fill="#00f000" stroke="#000" stroke-width="1.0"/>
<circle cx="570.50" cy="449.20" r="2.75" fill="#00f000" stroke="#000" stroke-width="1.0"/>
<circle cx="553.00" cy="456.60" r="2.75" fill="#00f000" stroke="#000" stroke-width="1.0"/>
<circle cx="560.10" cy="456.60" r="2.75" fill="#00f000" stroke="#000" stroke-width="1.0"/>
<circle cx="570.50" cy="456.60" r="2.75" fill="#00f000" stroke="#000" stroke-width="1.0"/>
<circle cx="553.00" cy="464.00" r="2.75" fill="#00f000" stroke="#000" stroke-width="1.0"/>
<circle cx="565.40" cy="464.00" r="2.75" fill="#00f000" stroke="#000" stroke-width="1.0"/>
<circle cx="559.30" cy="469.40" r="2.75" fill="#00f000" stroke="#000" stroke-width="1.0"/>
<rect x="556.65" y="474.85" width="5.3" height="5.3" fill="#0000f0" stroke="#000" stroke-width="1.0"/>
<rect x="556.65" y="482.25" width="5.3" height="5.3" fill="#0000f0" stroke="#000" stroke-width="1.0"/>
<text transform="translate(537.56,460.60) scale(1.0928,1)" font-size="10.43" font-weight="700" fill="#000"  stroke="#000" stroke-width="0.2" stroke-linejoin="round">P</text>
<text transform="translate(577.89,460.60) scale(1.0424,1)" font-size="10.43" font-weight="700" fill="#000"  stroke="#000" stroke-width="0.2" stroke-linejoin="round">P</text>
<line x1="559.70" y1="492.30" x2="592.70" y2="502.80" stroke="#000" stroke-width="1.2" />
<text transform="translate(583.84,444.16) scale(1.0880,1)" font-size="8.73" font-weight="400" fill="#000"  stroke="#000" stroke-width="0.5" stroke-linejoin="round">1999</text>
<line x1="588.90" y1="445.90" x2="601.80" y2="445.90" stroke="#000" stroke-width="1.1" />
<line x1="594.60" y1="445.90" x2="594.60" y2="447.00" stroke="#000" stroke-width="1.0" />
<line x1="594.60" y1="447.00" x2="594.60" y2="513.00" stroke="#000" stroke-width="1.6" />
<text transform="translate(3.19,576.17) scale(0.9323,1)" font-size="25.42" font-weight="400" fill="#000"  stroke="#000" stroke-width="0.35" stroke-linejoin="round">C</text>
<text transform="translate(53.14,593.52) scale(0.9340,1)" font-size="12.17" font-weight="400" fill="#000"  stroke="#000" stroke-width="0.45" stroke-linejoin="round">X</text>
<path transform="matrix(0.005093,0,0,-0.005707,60.789,593.525)" d="M763,0 L583,0 L583,1147 Q518,1085 415,1024 Q312,963 223,930 L223,1104 Q375,1175 487,1276 Q599,1377 649,1472 L763,1472 Z" fill="#000" stroke="#000" stroke-width="83.34" stroke-linejoin="round"/>
<text transform="translate(66.91,593.65) scale(0.8465,1)" font-size="12.18" font-weight="400" fill="#000"  stroke="#000" stroke-width="0.45" stroke-linejoin="round">0</text>
<text transform="translate(73.03,589.95) scale(0.9316,1)" font-size="6.38" font-weight="400" fill="#000"  stroke="#000" stroke-width="0.3" stroke-linejoin="round">4</text>
<text transform="translate(31.68,715.45) rotate(-90) scale(0.9820,1)" font-size="17.01" font-weight="400" fill="#000"  stroke="#000" stroke-width="0.5" stroke-linejoin="round">Intensity</text>
<line x1="78.30" y1="606.60" x2="288.90" y2="606.60" stroke="#000" stroke-width="2.0" />
<line x1="78.30" y1="605.60" x2="78.30" y2="773.60" stroke="#000" stroke-width="2.0" />
<line x1="288.90" y1="605.60" x2="288.90" y2="773.60" stroke="#000" stroke-width="2.0" />
<line x1="77.30" y1="772.40" x2="289.90" y2="772.40" stroke="#000" stroke-width="2.4" />
<line x1="78.30" y1="689.80" x2="288.90" y2="689.80" stroke="#000" stroke-width="3.0" />
<line x1="296.70" y1="607.30" x2="508.30" y2="607.30" stroke="#000" stroke-width="2.0" />
<line x1="296.70" y1="606.30" x2="296.70" y2="773.45" stroke="#000" stroke-width="2.0" />
<line x1="508.30" y1="606.30" x2="508.30" y2="773.45" stroke="#000" stroke-width="2.0" />
<line x1="295.70" y1="772.30" x2="509.30" y2="772.30" stroke="#000" stroke-width="2.3" />
<line x1="296.70" y1="690.10" x2="508.30" y2="690.10" stroke="#000" stroke-width="2.3" />
<line x1="516.50" y1="606.60" x2="727.90" y2="606.60" stroke="#000" stroke-width="2.0" />
<line x1="516.50" y1="605.60" x2="516.50" y2="773.15" stroke="#000" stroke-width="2.0" />
<line x1="727.90" y1="605.60" x2="727.90" y2="773.15" stroke="#000" stroke-width="2.0" />
<line x1="515.50" y1="772.00" x2="728.90" y2="772.00" stroke="#000" stroke-width="2.3" />
<line x1="516.50" y1="688.90" x2="727.90" y2="688.90" stroke="#000" stroke-width="3.3" />
<line x1="68.30" y1="625.40" x2="78.30" y2="625.40" stroke="#000" stroke-width="1.8" />
<text transform="translate(50.65,628.34) scale(1.0450,1)" font-size="11.13" font-weight="700" fill="#000"  stroke="#000" stroke-width="0.3" stroke-linejoin="round">1.0</text>
<line x1="68.30" y1="664.50" x2="78.30" y2="664.50" stroke="#000" stroke-width="1.8" />
<text transform="translate(50.90,667.44) scale(1.0174,1)" font-size="11.13" font-weight="700" fill="#000"  stroke="#000" stroke-width="0.3" stroke-linejoin="round">0.5</text>
<line x1="68.30" y1="710.00" x2="78.30" y2="710.00" stroke="#000" stroke-width="1.8" />
<text transform="translate(50.65,712.94) scale(1.0450,1)" font-size="11.13" font-weight="700" fill="#000"  stroke="#000" stroke-width="0.3" stroke-linejoin="round">1.0</text>
<line x1="68.30" y1="748.90" x2="78.30" y2="748.90" stroke="#000" stroke-width="1.8" />
<text transform="translate(50.90,751.84) scale(1.0174,1)" font-size="11.13" font-weight="700" fill="#000"  stroke="#000" stroke-width="0.3" stroke-linejoin="round">0.5</text>
<line x1="86.40" y1="773.00" x2="86.40" y2="781.20" stroke="#000" stroke-width="1.5" />
<text transform="translate(73.70,792.84) scale(1.0202,1)" font-size="10.56" font-weight="700" fill="#000"  stroke="#000" stroke-width="0.3" stroke-linejoin="round">1000</text>
<line x1="141.50" y1="773.00" x2="141.50" y2="781.20" stroke="#000" stroke-width="1.5" />
<text transform="translate(127.89,792.14) scale(1.0197,1)" font-size="10.85" font-weight="700" fill="#000"  stroke="#000" stroke-width="0.3" stroke-linejoin="round">1500</text>
<line x1="200.30" y1="773.00" x2="200.30" y2="781.20" stroke="#000" stroke-width="1.5" />
<text transform="translate(189.06,790.85) scale(1.0710,1)" font-size="10.42" font-weight="700" fill="#000"  stroke="#000" stroke-width="0.3" stroke-linejoin="round">2000</text>
<line x1="255.20" y1="773.00" x2="255.20" y2="781.20" stroke="#000" stroke-width="1.5" />
<text transform="translate(241.47,793.14) scale(0.9823,1)" font-size="11.13" font-weight="700" fill="#000"  stroke="#000" stroke-width="0.3" stroke-linejoin="round">2500</text>
<line x1="305.50" y1="773.00" x2="305.50" y2="781.20" stroke="#000" stroke-width="1.5" />
<text transform="translate(292.80,791.85) scale(1.0824,1)" font-size="10.00" font-weight="700" fill="#000"  stroke="#000" stroke-width="0.3" stroke-linejoin="round">1000</text>
<line x1="360.80" y1="773.00" x2="360.80" y2="781.20" stroke="#000" stroke-width="1.5" />
<text transform="translate(347.21,790.95) scale(1.0992,1)" font-size="9.72" font-weight="700" fill="#000"  stroke="#000" stroke-width="0.3" stroke-linejoin="round">1500</text>
<line x1="420.10" y1="773.00" x2="420.10" y2="781.20" stroke="#000" stroke-width="1.5" />
<text transform="translate(408.17,790.64) scale(1.0124,1)" font-size="10.70" font-weight="700" fill="#000"  stroke="#000" stroke-width="0.3" stroke-linejoin="round">2000</text>
<line x1="474.90" y1="773.00" x2="474.90" y2="781.20" stroke="#000" stroke-width="1.5" />
<text transform="translate(460.67,791.85) scale(1.0837,1)" font-size="10.00" font-weight="700" fill="#000"  stroke="#000" stroke-width="0.3" stroke-linejoin="round">2500</text>
<line x1="524.80" y1="773.00" x2="524.80" y2="781.20" stroke="#000" stroke-width="1.5" />
<text transform="translate(512.21,791.84) scale(1.0024,1)" font-size="10.70" font-weight="700" fill="#000"  stroke="#000" stroke-width="0.3" stroke-linejoin="round">1000</text>
<line x1="580.30" y1="773.00" x2="580.30" y2="781.20" stroke="#000" stroke-width="1.5" />
<text transform="translate(566.92,791.24) scale(0.9552,1)" font-size="10.99" font-weight="700" fill="#000"  stroke="#000" stroke-width="0.3" stroke-linejoin="round">1500</text>
<line x1="639.20" y1="773.00" x2="639.20" y2="781.20" stroke="#000" stroke-width="1.5" />
<text transform="translate(627.67,790.35) scale(1.0687,1)" font-size="10.14" font-weight="700" fill="#000"  stroke="#000" stroke-width="0.3" stroke-linejoin="round">2000</text>
<line x1="693.60" y1="773.00" x2="693.60" y2="781.20" stroke="#000" stroke-width="1.5" />
<text transform="translate(679.56,791.75) scale(1.0812,1)" font-size="10.28" font-weight="700" fill="#000"  stroke="#000" stroke-width="0.3" stroke-linejoin="round">2500</text>
<text transform="translate(716.62,789.97) scale(1.2071,1)" font-size="11.28" font-weight="700" fill="#000"  stroke="#000" stroke-width="0.2" stroke-linejoin="round">m/z</text>
<text transform="translate(262.95,623.83) scale(0.9641,1)" font-size="16.74" font-weight="400" fill="#000"  stroke="#000" stroke-width="0.35" stroke-linejoin="round">4</text>
<text transform="translate(249.87,643.62) scale(0.9935,1)" font-size="16.16" font-weight="400" fill="#000"  stroke="#000" stroke-width="0.35" stroke-linejoin="round">+MD</text>
<text transform="translate(248.64,711.62) scale(0.9773,1)" font-size="17.03" font-weight="400" fill="#000"  stroke="#000" stroke-width="0.35" stroke-linejoin="round">+ AP</text>
<text transform="translate(481.58,623.76) scale(1.0526,1)" font-size="16.50" font-weight="400" fill="#000"  stroke="#000" stroke-width="0.35" stroke-linejoin="round">5</text>
<text transform="translate(468.66,643.62) scale(1.0026,1)" font-size="16.16" font-weight="400" fill="#000"  stroke="#000" stroke-width="0.35" stroke-linejoin="round">+MD</text>
<text transform="translate(470.15,711.93) scale(0.9715,1)" font-size="17.03" font-weight="400" fill="#000"  stroke="#000" stroke-width="0.35" stroke-linejoin="round">+ AP</text>
<text transform="translate(704.22,622.36) scale(1.0244,1)" font-size="16.69" font-weight="400" fill="#000"  stroke="#000" stroke-width="0.35" stroke-linejoin="round">6</text>
<text transform="translate(691.26,641.93) scale(1.0026,1)" font-size="16.16" font-weight="400" fill="#000"  stroke="#000" stroke-width="0.35" stroke-linejoin="round">+MD</text>
<text transform="translate(690.15,711.53) scale(0.9828,1)" font-size="16.88" font-weight="400" fill="#000"  stroke="#000" stroke-width="0.35" stroke-linejoin="round">+ AP</text>
<path d="M79.5,685.0 80.3,685.0 80.5,685.4 81.1,685.2 81.5,685.5 81.9,685.5 82.1,685.2 82.7,685.5 83.1,685.5 83.5,685.2 83.9,685.2 84.5,685.7 85.1,685.5 85.7,685.8 85.9,685.5 86.5,685.2 87.7,686.1 88.1,686.1 88.3,685.9 88.5,686.0 88.9,685.9 89.5,686.3 89.7,685.9 90.5,685.2 90.9,685.2 91.5,685.7 91.9,685.4 92.3,685.8 92.7,685.5 93.1,685.7 93.3,685.6 93.5,685.8 93.9,685.5 94.1,685.7 94.3,685.5 94.5,685.6 95.3,685.4 95.5,685.7 96.1,685.7 97.1,685.2 97.3,685.5 97.5,685.3 98.1,685.8 98.7,685.3 99.1,685.6 99.5,685.2 99.7,685.3 99.9,685.2 100.3,685.2 100.5,685.5 100.9,685.3 101.3,685.7 101.9,685.3 102.5,685.3 103.3,686.0 103.9,685.5 104.5,685.9 104.9,685.4 105.9,685.8 106.7,685.4 107.1,685.4 107.5,684.5 107.7,684.4 108.7,684.8 109.3,685.4 109.7,685.2 109.9,685.5 110.7,685.7 111.1,685.5 111.3,685.7 111.9,685.2 113.5,685.5 114.1,684.0 114.3,684.1 115.1,686.1 115.3,686.0 115.7,686.3 115.9,686.2 116.3,685.5 117.1,685.8 117.7,684.9 118.1,685.0 118.3,685.6 119.1,686.2 119.9,685.5 120.3,685.7 120.9,685.2 121.3,685.4 121.5,685.2 121.7,685.3 122.1,685.1 122.7,685.7 123.5,685.4 124.3,685.8 125.3,685.4 125.7,685.5 125.9,685.3 126.7,685.7 127.1,685.6 127.7,684.0 128.1,684.5 128.5,685.5 128.9,685.5 129.3,685.8 129.7,685.5 130.1,685.6 130.3,685.3 130.5,683.7 130.7,678.4 131.3,635.2 131.5,635.2 131.9,666.3 132.1,671.1 132.7,638.4 132.9,638.0 133.5,670.9 133.9,673.5 134.9,684.1 135.1,684.5 135.7,683.4 135.9,683.3 136.5,685.3 136.7,685.4 137.3,685.1 137.5,685.3 137.9,685.2 138.3,685.6 138.5,685.3 138.9,685.6 139.3,685.6 139.5,685.8 140.5,685.6 140.9,685.8 141.5,685.5 141.7,685.7 141.9,685.4 142.9,685.5 143.5,685.3 143.7,685.5 144.9,685.0 145.3,685.4 146.1,685.1 147.1,685.5 148.1,685.1 148.9,685.6 149.5,685.1 149.7,685.2 149.9,685.0 150.1,685.2 150.3,685.1 150.7,685.6 151.1,685.8 151.3,685.6 151.5,685.8 151.7,685.4 152.3,685.0 153.1,685.6 153.7,685.8 154.5,684.9 154.9,685.0 155.1,684.9 157.1,685.7 158.7,685.2 158.9,685.5 159.1,685.5 159.7,685.1 159.9,685.4 160.5,685.4 161.1,685.6 161.7,685.5 162.3,685.7 162.7,685.4 163.1,685.7 163.3,685.5 164.3,686.1 164.5,685.9 164.7,686.1 165.1,685.8 165.3,686.0 165.5,685.8 166.3,685.5 167.9,686.3 168.9,685.1 169.5,685.7 170.5,685.0 170.9,685.3 171.1,685.1 171.3,685.2 172.1,684.5 172.9,685.4 173.3,685.3 173.9,685.9 174.5,685.6 174.9,685.9 175.3,685.6 175.5,685.8 175.7,685.7 176.5,685.8 176.7,685.5 177.7,685.0 177.9,685.3 178.1,685.2 178.5,685.4 178.9,685.8 179.3,685.6 179.5,685.7 179.7,685.5 179.9,685.7 180.7,685.1 181.5,685.6 182.3,685.5 182.7,685.9 182.9,685.7 183.3,686.0 183.9,686.0 184.3,685.8 184.9,686.2 185.1,685.9 185.7,686.0 186.3,685.5 186.7,685.8 187.3,685.3 187.7,685.5 187.9,685.3 188.3,685.8 189.7,685.6 190.1,685.0 190.7,684.7 190.9,685.1 191.3,685.2 192.1,685.2 192.3,684.9 193.3,685.0 193.7,685.0 193.9,685.3 194.7,685.7 194.9,685.6 196.1,686.0 196.3,685.8 197.1,686.1 197.3,685.8 197.9,685.8 198.7,685.4 199.1,685.7 199.3,685.8 199.7,685.4 199.9,685.7 200.1,685.5 200.9,685.7 201.3,686.0 201.9,685.6 202.3,685.7 203.1,684.4 204.3,685.9 204.7,686.0 205.1,685.9 205.3,686.0 205.5,685.7 206.5,685.3 206.9,685.7 207.5,685.3 207.7,685.5 208.3,685.4 208.9,685.5 209.1,685.1 209.5,685.6 210.1,685.8 210.5,685.6 210.9,685.7 211.5,685.2 211.9,685.5 212.3,685.4 212.5,685.7 212.9,685.7 214.1,685.1 214.9,685.6 215.3,685.4 215.7,685.5 216.1,685.9 217.5,685.3 218.5,686.0 218.9,685.9 219.1,685.6 219.5,685.8 220.1,685.5 220.3,685.6 221.3,685.0 222.1,683.7 222.7,685.5 223.3,685.9 223.7,685.5 224.3,686.0 224.5,685.9 224.9,686.2 225.5,685.6 225.7,685.7 225.9,685.5 226.3,685.8 226.5,685.6 227.9,686.0 228.1,685.8 228.5,685.8 228.9,686.1 230.3,685.0 230.5,684.5 230.9,684.4 231.5,685.3 232.3,685.4 232.7,685.9 233.1,685.8 233.3,685.5 233.7,685.3 234.5,685.6 235.1,685.3 235.3,685.6 235.9,685.6 236.7,685.9 237.3,685.5 237.9,685.7 238.3,685.5 238.9,684.9 239.3,685.2 239.7,684.8 240.1,685.0 240.7,686.0 241.5,685.7 242.1,685.9 242.5,685.7 243.1,683.4 243.3,683.6 243.7,685.6 244.5,685.5 244.7,685.7 245.3,684.8 245.9,684.7 246.3,685.3 246.5,685.3 246.9,685.8 247.3,685.6 248.7,682.4 249.1,682.4 249.9,684.1 250.7,685.4 251.1,685.6 251.7,685.2 252.3,685.6 252.5,685.4 253.3,685.7 253.9,685.7 254.1,685.5 254.5,685.7 254.9,685.5 255.3,685.9 255.7,685.7 255.9,685.9 256.9,685.1 257.3,683.7 258.1,685.4 259.1,685.6 259.7,686.0 260.1,685.9 260.5,685.5 261.7,686.2 261.9,686.0 262.1,686.1 262.5,685.7 262.9,685.8 263.5,685.3 264.1,685.8 264.3,685.5 264.5,685.6 265.1,685.2 265.7,685.5 266.1,685.2 266.5,685.6 267.3,685.2 267.7,684.7 268.1,685.3 268.5,685.5 268.7,685.3 269.1,685.7 269.3,685.5 269.9,686.0 270.3,685.7 271.1,684.3 271.7,685.5 272.7,685.6 273.5,685.4 273.9,685.5 274.1,685.8 274.3,685.6 274.7,685.8 275.5,685.1 275.7,684.7 276.5,685.7 276.9,685.6 277.5,686.0 277.7,685.9 277.9,686.0 278.1,685.7 278.5,685.6 279.3,685.8 280.3,685.3 280.5,685.5 280.9,685.2 281.5,683.8 282.3,685.6 283.3,684.8 283.5,685.0 283.7,684.7 284.7,685.4 285.1,685.2 285.5,685.5 286.5,685.5 286.9,685.1 287.5,683.6 287.9,684.9" fill="none" stroke="#000" stroke-width="1.1" stroke-linejoin="round"/>
<path d="M79.5,770.7 79.7,770.5 80.5,771.0 81.1,770.3 81.7,770.9 82.5,770.7 82.9,771.1 83.5,771.3 84.5,770.4 84.7,770.7 85.5,770.1 86.7,770.2 86.9,770.5 87.3,770.5 87.7,770.9 88.1,770.5 88.3,770.7 89.7,770.0 90.1,770.6 90.3,770.4 90.9,770.6 91.5,770.3 91.7,770.6 92.3,770.7 92.5,770.4 93.1,770.8 94.1,770.1 94.5,770.4 94.7,770.3 95.3,770.5 95.5,770.3 95.9,770.6 96.3,770.4 96.7,770.8 97.7,770.4 97.9,770.7 98.3,770.8 98.5,770.7 98.9,770.9 99.1,770.7 99.9,770.8 100.5,770.6 101.3,770.9 102.3,770.3 102.9,770.6 103.1,770.4 103.5,770.6 103.9,770.3 104.3,770.5 104.7,770.2 105.7,770.6 106.1,770.3 106.5,770.3 107.3,770.0 108.1,770.5 108.5,770.3 108.7,770.5 109.3,770.0 109.9,770.5 110.5,770.3 111.1,768.6 111.3,768.6 111.9,770.2 112.1,770.2 112.5,770.8 112.9,770.7 113.1,770.5 113.5,769.2 113.7,769.1 114.9,770.7 115.3,770.6 115.7,770.8 116.5,770.3 116.7,770.6 117.3,770.6 118.1,770.1 118.7,770.6 119.1,770.4 119.3,769.7 119.5,766.4 119.7,757.0 120.3,711.9 120.7,739.6 121.3,715.2 122.1,752.5 122.3,752.4 122.5,754.5 123.5,768.8 123.7,769.9 124.1,770.3 125.1,770.1 126.3,770.6 127.7,769.1 128.3,769.5 128.9,770.5 129.7,770.1 130.1,770.7 130.5,770.3 130.9,770.5 131.3,770.3 131.5,770.5 131.7,770.3 132.3,770.7 132.9,770.7 134.3,769.9 134.5,770.1 135.1,769.9 135.5,769.2 135.9,769.4 136.5,770.2 136.9,770.2 137.1,770.5 138.3,769.4 138.5,769.7 139.1,768.2 139.7,770.0 140.3,770.8 141.3,770.3 141.7,770.7 142.1,770.4 142.5,770.6 143.3,768.8 144.1,770.1 144.3,769.3 144.5,769.0 144.7,769.0 145.1,770.2 145.7,770.8 146.1,770.3 146.5,770.1 147.1,770.8 147.9,771.1 149.1,770.8 149.9,771.1 150.5,770.6 151.3,770.9 151.5,770.6 152.7,770.6 153.5,769.9 154.3,769.8 154.9,770.6 155.3,770.4 155.5,770.6 155.9,770.0 156.1,770.1 157.7,771.1 158.3,770.5 159.1,770.6 159.7,770.4 160.1,770.6 161.1,770.3 161.7,769.8 162.7,770.8 163.1,770.5 163.7,770.7 163.9,770.5 164.5,770.7 165.1,770.3 165.5,770.5 165.7,770.3 166.3,770.5 166.9,770.1 168.1,770.8 168.7,770.5 169.3,768.7 169.5,768.8 169.9,769.8 170.5,770.6 171.1,770.4 171.3,770.2 171.9,770.8 172.1,770.5 172.5,770.3 172.9,770.5 173.3,771.1 173.9,770.6 174.1,770.8 174.3,770.6 174.9,770.5 175.5,770.0 176.3,770.3 177.3,771.1 177.9,770.5 178.9,770.9 179.1,770.6 179.7,770.8 180.1,770.3 180.3,770.5 180.9,770.4 181.1,770.7 181.9,771.1 182.5,770.5 183.1,770.5 183.5,770.9 183.7,770.6 184.1,770.9 184.5,770.3 185.3,770.1 185.7,770.5 186.9,770.5 187.3,770.9 187.7,770.6 188.1,770.9 188.9,770.9 189.5,771.3 189.7,771.0 189.9,771.0 190.5,770.5 190.9,770.9 191.5,770.6 191.9,770.9 192.1,770.7 192.5,770.9 193.5,770.3 193.9,770.4 194.9,770.9 195.1,770.7 195.5,770.9 196.1,770.3 196.5,770.8 197.3,770.2 197.9,770.5 198.1,770.1 198.7,769.8 199.3,771.0 199.7,771.2 200.1,770.7 200.5,770.8 200.9,770.4 201.3,770.8 202.1,769.7 202.7,770.4 202.9,770.3 203.1,770.6 204.3,770.3 204.9,770.0 205.7,770.7 206.7,769.6 207.5,770.6 208.1,770.3 208.5,770.5 209.9,769.8 210.5,770.0 210.9,769.5 211.5,767.8 211.9,767.3 212.3,767.6 213.5,770.6 214.1,770.9 214.5,770.5 215.3,770.6 215.5,770.4 216.3,770.8 216.9,770.4 217.5,770.4 217.7,770.1 218.9,770.6 219.7,770.3 220.3,770.4 221.1,768.1 221.3,768.2 221.9,770.2 222.3,770.7 222.5,770.6 222.9,771.0 223.5,770.5 223.7,770.7 223.9,770.4 224.5,770.7 224.7,770.6 224.9,770.8 225.1,770.6 225.9,770.4 226.3,770.4 226.5,770.6 227.1,770.1 227.5,770.1 227.7,769.9 228.1,770.4 228.5,769.9 229.1,770.1 229.3,770.4 229.7,770.4 230.1,770.8 230.7,770.7 230.9,770.4 231.3,770.7 231.7,770.3 232.1,770.6 232.5,770.4 233.7,770.8 234.1,770.5 235.1,771.1 235.3,770.7 235.9,770.9 236.3,770.5 237.1,770.3 237.3,770.6 237.5,770.3 238.1,770.7 238.5,770.6 239.3,771.0 239.7,770.6 240.3,770.8 240.7,770.7 240.9,770.4 241.9,771.0 242.7,770.4 243.1,770.5 243.7,771.0 243.9,770.7 244.5,770.4 245.1,770.4 245.3,770.6 245.7,770.3 246.5,771.0 247.1,771.0 247.7,770.5 248.1,770.7 248.9,770.1 249.5,770.0 249.9,770.4 251.1,770.2 251.9,770.7 252.7,770.6 253.1,770.8 253.9,770.4 254.3,769.5 254.5,769.4 254.9,770.6 255.3,771.0 255.5,770.8 256.1,770.7 256.5,770.3 257.3,768.1 257.5,768.2 258.3,769.8 258.9,769.2 259.3,769.2 259.5,769.6 259.9,769.5 260.7,770.8 261.1,771.0 261.3,770.6 261.5,770.7 261.9,770.1 262.3,769.9 263.7,770.9 264.7,769.4 265.3,770.6 266.1,770.5 266.3,770.6 266.7,770.3 266.9,770.5 267.7,769.6 268.1,769.8 268.9,770.5 269.9,770.1 270.3,770.4 270.9,770.1 271.7,770.5 272.5,770.6 272.7,770.3 273.5,770.9 274.1,770.4 274.3,770.5 274.7,770.0 275.3,770.5 275.5,770.3 275.9,770.8 276.1,770.5 276.7,770.4 277.1,770.7 277.3,770.5 277.7,770.9 277.9,770.6 278.1,770.8 279.1,770.1 279.9,770.7 280.5,770.2 281.3,771.0 282.5,771.3 282.9,770.8 284.1,771.3 284.3,771.0 284.5,771.1 286.1,770.6 286.5,770.9 287.1,770.8 287.5,771.0 287.9,770.6" fill="none" stroke="#000" stroke-width="1.1" stroke-linejoin="round"/>
<path d="M298,686.3 298.2,686.5 298.6,686.3 299.2,686.7 299.4,686.5 300,687.0 300.4,686.5 300.8,686.7 301.2,686.3 301.8,686.5 302.6,686.0 303.2,686.3 303.8,686.1 304,686.2 304.6,685.8 305.4,684.5 305.6,684.6 306.4,686.6 306.8,686.3 307,686.5 307.2,686.4 307.8,685.8 308.4,686.4 308.8,686.5 309.6,685.9 310.2,686.2 311,685.4 312,686.3 312.6,686.1 312.8,686.4 313.8,685.6 314.8,681.5 315.2,682.0 315.8,685.2 316.4,686.6 316.6,686.4 316.8,686.6 317.2,686.1 317.8,686.6 318.4,686.4 319.2,686.8 319.4,686.5 319.8,686.7 320,686.4 320.2,686.5 320.8,685.9 321,686.0 321.4,685.4 322.2,682.2 322.4,682.2 322.8,684.0 323,683.8 323.6,681.1 324.4,685.0 325.4,686.3 325.8,686.2 326,686.1 326.8,683.9 327.4,676.9 327.6,675.4 327.8,675.4 328.6,684.5 329,686.2 329.4,685.2 329.6,683.6 330.4,675.1 330.6,675.7 331,680.2 331.6,675.8 331.8,675.8 332.8,685.3 333,685.7 333.6,686.2 334,685.7 334.2,684.7 335,677.6 335.2,677.4 335.8,683.2 336.2,685.2 336.4,685.5 337.2,686.1 337.4,686.0 338,686.0 338.2,685.5 338.8,685.5 339.4,686.6 339.6,686.3 341,687.0 341.4,686.5 342.2,686.5 343,685.5 343.4,686.3 343.8,686.4 344.4,685.7 344.8,684.6 345.2,684.1 345.8,686.0 346,686.4 346.2,686.2 346.6,685.0 347,679.3 347.8,650.7 348,650.8 348.4,664.3 348.6,664.9 348.8,663.4 349,665.2 349.6,680.2 349.8,683.6 350.2,686.3 351,686.7 351.2,686.4 351.6,686.2 351.8,686.4 352.6,685.7 353,686.0 353.4,685.7 353.8,685.7 354.2,686.2 355.4,686.8 356,686.5 357,686.9 357.4,686.6 358,685.9 358.8,685.9 359.2,686.4 359.6,686.1 360,686.4 360.2,686.2 360.4,686.5 361,686.7 361.6,686.2 362.2,686.2 363,683.8 363.2,684.0 363.6,685.7 364,686.3 364.4,686.1 364.6,686.2 365.6,685.7 365.8,686.1 366,685.9 366.6,686.1 366.8,685.9 367.2,686.1 367.4,685.9 368.2,686.1 368.4,685.9 368.6,686.2 368.8,686.1 369,686.3 369.8,685.7 370.4,685.6 370.6,685.9 371.4,686.2 371.8,684.7 372,682.7 372.2,677.8 373.2,626.2 373.8,656.8 374.4,663.2 375,677.5 375.6,676.9 376.8,684.1 377.2,685.4 377.8,686.2 378,686.0 378.2,686.3 379,686.6 379.4,686.2 380,686.1 380.4,685.8 380.6,685.9 381.4,685.7 381.8,686.2 382,686.0 382.2,686.2 382.4,686.1 382.6,686.2 382.8,686.0 383.2,686.4 383.8,686.1 384.2,686.4 384.4,686.2 385.2,686.9 385.4,686.6 385.6,686.6 386,685.9 386.6,685.6 387.2,686.3 387.8,686.5 388,686.3 388.6,686.7 389.4,686.2 390,686.7 390.2,686.5 391,686.9 391.2,686.7 391.4,686.8 391.6,686.4 392.4,686.6 393,686.0 393.4,686.3 394.2,684.0 395,686.1 395.4,686.0 395.8,686.4 396.6,684.9 396.8,684.8 397,685.3 397.4,685.0 398,680.2 398.2,679.0 398.4,678.8 399,683.3 399.6,684.9 400.4,685.9 400.6,685.9 400.8,686.1 401.8,685.9 402.2,686.4 402.4,686.3 403,686.6 403.4,686.4 404,686.6 405,685.9 405.2,686.0 405.8,685.0 406.4,685.6 406.8,686.5 407.4,686.7 408.2,685.9 408.6,685.9 409.4,684.9 409.8,685.3 410,685.8 410.6,686.4 411,686.4 411.2,686.6 411.6,686.3 411.8,686.5 412.2,686.4 412.8,686.7 413,686.5 413.6,686.6 414.4,686.0 416,686.7 416.8,686.3 417.4,686.4 417.6,686.2 419,686.5 419.8,686.2 420.4,685.5 420.8,685.3 421.2,683.8 422,685.8 422.4,685.8 422.8,686.1 423.4,685.4 424.8,686.7 425.2,686.2 425.8,686.1 426,685.8 426.4,686.3 427,686.5 427.4,686.3 427.6,686.4 428.8,685.6 430.2,685.9 430.6,685.7 431,686.3 431.2,686.2 431.6,686.3 432,686.2 433,685.8 433.2,686.2 433.4,686.3 433.6,686.2 433.8,686.4 434.2,686.3 434.4,685.9 434.8,685.8 435,686.2 436,686.4 436.2,686.0 437.2,685.7 437.6,685.8 438.2,686.4 438.8,686.1 439.4,685.5 439.6,685.7 439.8,685.5 440.2,685.6 440.4,686.0 440.6,685.9 441,686.2 441.4,685.9 441.6,686.0 441.8,685.6 442.4,686.3 442.6,686.3 443,685.0 443.8,686.5 444.2,686.4 444.6,686.0 444.8,686.2 445.2,686.1 445.6,686.5 445.8,686.3 446.4,686.4 446.8,686.1 447,686.4 447.8,686.6 448.4,686.1 448.8,685.0 449.8,686.5 450.2,686.6 450.6,686.4 450.8,686.7 451.2,686.3 451.4,686.5 453.4,685.4 454.2,685.7 454.4,685.9 454.8,685.5 455.2,684.1 455.4,684.3 455.8,685.9 456,686.1 456.6,685.9 457,686.4 457.4,686.1 457.6,686.2 458,686.1 458.6,685.6 458.8,686.0 459.2,686.2 459.6,685.8 460.4,684.5 461.2,686.2 461.4,686.5 462,686.6 462.8,685.8 463.4,685.7 463.8,684.5 464,684.4 464.6,685.9 465,686.2 465.4,686.0 465.8,686.4 466.2,686.1 466.6,686.3 467.2,686.1 467.6,686.4 468,686.1 468.2,686.4 468.6,686.1 469,686.3 469.4,686.3 469.6,686.1 470.2,686.1 470.4,686.4 471.2,686.1 471.6,686.3 472,685.9 472.4,685.8 473.2,686.0 473.4,686.3 474,686.1 475,686.1 475.2,685.7 475.6,685.4 476.4,686.3 477.2,685.9 477.6,686.3 478,685.9 478.4,686.0 478.6,685.8 478.8,686.1 479,685.9 479.4,686.3 479.8,686.3 480,686.0 480.2,686.1 480.6,685.3 481.2,686.6 481.8,686.1 482.6,686.3 482.8,686.0 483,686.3 483.8,686.5 484.6,686.0 485,686.2 485.6,685.6 486,684.6 487,683.7 487.6,684.2 488,685.0 488.4,685.2 488.6,685.7 488.8,685.7 489.6,686.6 490.2,686.6 490.6,686.1 490.8,686.4 491.4,686.5 492,686.0 492.4,686.4 492.8,686.3 493,686.5 494.2,686.0 494.4,686.1 494.8,685.8 495,686.0 495.6,685.8 495.8,686.2 496.4,686.1 496.6,686.4 497.4,686.3 497.6,686.5 498.2,686.1 498.8,686.5 499,686.2 499.4,686.3 499.8,685.4 500.2,685.2 500.8,686.0 502,686.7 502.8,686.1 503.2,686.4 504,685.2 504.4,685.3 505,686.4 505.4,686.6 506,686.7 506.2,686.5 507,685.2 507.4,685.8" fill="none" stroke="#000" stroke-width="1.1" stroke-linejoin="round"/>
<path d="M298,770.6 298.2,770.8 298.6,770.6 299,770.9 299.6,770.5 300,770.7 300.6,770.6 301.4,769.6 301.8,769.8 302.2,770.8 302.4,770.9 302.8,770.6 303.2,770.8 303.8,770.3 304.2,770.7 304.8,770.8 305,770.6 305.4,770.6 305.6,770.8 305.8,770.6 306,770.7 306.2,770.5 306.6,770.8 307.2,770.3 308.6,771.0 309,770.6 309.8,770.4 310.4,770.9 310.8,770.4 311.2,770.3 312,767.6 312.2,767.5 312.4,767.7 313,769.8 313.4,770.4 313.8,770.7 314.2,770.4 315.2,770.7 316,771.1 316.6,770.6 317,770.6 317.8,766.9 318.2,766.1 319,769.9 319.4,770.8 319.8,769.9 320.2,769.8 320.6,770.1 320.8,769.4 321.8,760.3 322.8,769.0 323,768.6 323.8,759.9 324,759.3 324.8,765.8 325.2,760.7 325.4,759.6 325.6,760.2 326.4,768.9 326.8,770.1 327,770.1 327.2,769.9 327.4,769.1 328.2,764.2 329,768.6 330,770.7 330.2,770.5 330.4,770.6 330.6,770.4 331.6,771.2 332.2,770.6 332.8,770.9 333,770.7 333.2,770.9 333.6,770.9 334,770.5 335,770.9 335.4,770.6 335.6,770.9 336.4,771.0 336.8,770.1 337.2,764.5 338,737.2 338.2,737.4 338.6,750.2 338.8,750.8 339,750.6 339.8,766.6 340,768.9 340.4,770.4 341,770.8 341.2,770.5 341.8,771.0 342.2,770.6 342.8,770.9 343.4,770.4 343.8,770.7 344.2,770.2 345.2,770.6 345.6,770.4 345.8,770.6 346.4,770.3 346.6,770.6 347.8,770.0 348.8,770.8 349.6,770.3 350.2,770.3 350.8,768.7 351,768.7 351.2,769.6 351.6,770.1 352,770.1 352.2,770.4 352.4,770.2 352.8,770.6 353,770.5 353.8,771.0 354.4,770.8 354.8,770.3 355,770.5 355.8,770.2 356.2,770.6 357,770.1 357.4,770.5 357.8,768.7 358.2,759.5 358.8,723.2 359,715.1 359.2,714.9 359.6,736.2 360,741.0 360.8,761.9 361,763.8 361.8,766.7 363.2,769.6 364.4,770.8 365.2,770.2 366,770.9 366.2,770.6 366.4,770.8 366.8,770.9 367,770.7 367.2,770.9 367.6,770.6 368,770.9 368.4,770.7 368.6,770.8 369.8,770.4 370.2,770.7 370.6,770.3 371.6,770.7 372,770.3 372.6,770.5 372.8,770.7 373.6,770.2 374.2,769.0 374.8,770.1 375.4,770.1 375.6,770.4 375.8,770.2 376.2,770.7 376.6,770.5 377,770.8 377.4,770.7 378,768.7 378.2,768.9 378.6,770.2 379.2,770.0 380.2,765.9 381.4,769.5 381.8,769.4 382.4,770.1 382.6,770.1 383.4,770.9 383.8,770.6 384.4,770.7 384.6,770.5 385,770.9 385.2,770.7 385.4,770.9 385.8,770.4 386.6,770.1 386.8,770.1 387.4,771.0 387.6,770.8 387.8,770.9 388.2,770.4 388.6,770.3 388.8,770.5 389.2,770.2 389.6,770.7 390,770.8 390.4,770.5 390.8,770.7 391.2,770.3 391.4,770.6 391.6,770.4 392,770.7 392.6,770.6 392.8,770.8 393.6,769.9 394,770.3 394.2,770.1 394.8,770.9 395.6,770.6 396.2,769.2 396.8,770.4 398,769.9 398.6,768.6 398.8,768.7 399.4,770.5 399.8,771.0 401,770.1 402,770.8 403,770.4 403.4,770.5 403.8,770.1 404.4,770.5 404.8,770.1 405.2,769.9 405.6,770.4 406,770.6 407.2,770.0 407.4,770.2 408.4,770.5 409.8,770.3 410,770.6 410.2,770.4 410.4,770.6 410.8,770.2 411.6,770.8 412.8,769.8 413.4,770.7 414,771.1 414.4,770.8 415,771.1 415.8,770.3 416.2,770.3 416.6,770.8 417.4,770.2 418,770.0 418.4,770.5 419,770.5 419.4,770.9 420,770.6 420.4,770.9 420.6,770.9 421.2,771.2 421.4,771.0 421.6,771.1 421.8,770.8 422.4,770.9 423.2,770.3 423.4,770.6 423.8,770.6 424.2,770.9 424.4,770.6 424.8,770.8 425.2,770.5 426,770.8 426.6,770.3 427,770.7 427.6,770.1 428,770.1 428.6,769.3 429.8,770.5 430.2,770.6 430.8,769.4 431.8,770.9 432.2,770.5 432.6,770.8 433,770.3 433.2,770.5 433.4,770.3 433.6,770.6 433.8,770.4 434.6,770.6 435,770.5 435.2,770.8 435.8,770.3 436.4,770.4 436.8,770.2 437.4,770.3 437.8,770.8 438.8,771.1 439,770.9 439.4,770.9 439.8,769.7 440.4,770.4 440.8,770.3 442,770.9 442.6,770.6 442.8,770.8 443.2,770.5 443.6,770.7 443.8,770.6 444,770.8 444.4,770.4 444.8,770.8 445.4,770.4 445.6,770.6 445.8,770.4 446,770.6 446.6,769.1 447,769.7 447.6,769.2 448,770.1 448.8,770.8 449.8,770.8 450.2,770.4 450.8,770.7 451,770.4 452.2,770.4 452.6,769.6 453.6,770.8 454,770.4 454.8,768.4 455.2,768.2 456.4,770.5 457.2,770.5 457.6,770.3 458.8,771.0 459.2,770.5 460,770.9 460.2,770.6 461,770.7 461.2,770.6 461.6,770.8 461.8,770.6 462.4,770.4 462.6,770.6 462.8,770.5 464.6,770.5 465,769.9 465.6,769.5 466,769.6 466.2,770.2 466.6,770.5 467.4,768.5 468,770.3 468.2,770.6 468.4,770.4 468.8,770.9 470,769.9 470.4,770.4 470.8,770.3 471,770.6 471.2,770.4 471.8,770.5 472.2,770.2 472.6,770.4 473,770.3 473.8,770.5 474.2,770.1 474.6,770.0 475.2,770.7 475.8,770.9 476.2,770.3 476.6,768.4 477.2,770.1 477.6,770.6 478,771.0 478.4,770.9 478.8,771.2 479,770.9 479.4,771.2 480,770.8 480.4,771.0 481.2,770.3 482.4,770.3 482.6,770.1 483.2,770.6 483.4,770.4 483.8,770.5 484,770.3 484.4,770.4 485,770.1 485.8,770.3 486.2,770.2 487,770.9 487.4,770.6 487.6,770.8 488.8,769.8 489.4,769.8 489.8,769.0 490,769.0 490.6,770.2 491,770.5 491.4,770.5 492.2,770.0 492.6,770.4 492.8,770.3 493.2,770.6 494.2,770.6 494.6,770.9 495.4,770.0 496.2,770.6 496.4,770.5 496.6,770.8 497,770.5 497.2,770.7 497.4,770.5 497.6,770.8 498.4,770.7 499,771.0 499.4,770.6 499.6,770.8 499.8,770.6 500.4,769.6 500.6,768.8 500.8,768.7 501,768.7 501.6,770.3 502,770.6 502.4,770.3 502.6,770.6 502.8,770.4 503,770.6 503.4,770.4 504,770.8 505,770.5 505.6,770.9 505.8,770.6 506.2,770.6 506.6,770.4 507,770.8 507.4,770.8" fill="none" stroke="#000" stroke-width="1.1" stroke-linejoin="round"/>
<path d="M518,681.7 518.2,681.0 518.8,680.4 519.6,681.4 519.8,682.3 520.2,681.4 520.8,683.5 521.6,682.4 522.4,683.4 523.8,683.3 524.2,683.7 524.4,683.6 524.8,684.1 525.2,684.3 525.8,683.8 526,684.1 526.2,684.0 526.4,684.1 526.6,683.8 527,683.9 527.2,684.2 527.6,683.7 527.8,683.9 528.2,683.7 529,684.0 529.4,683.5 529.8,684.0 530,683.7 530.4,684.2 530.8,684.2 531.6,683.6 531.8,683.9 532,683.7 532.4,683.9 532.6,683.7 533.2,683.8 533.4,683.7 533.8,684.2 534,683.8 534.6,684.2 534.8,683.9 535.2,684.2 535.6,683.9 536,684.2 537.2,684.4 537.4,684.0 537.8,684.4 538.2,684.2 538.8,684.4 539.2,684.0 539.6,684.2 540.2,684.2 541.2,683.0 541.4,683.5 542.2,684.2 544,683.2 544.4,683.8 544.6,683.7 544.8,683.9 545,683.6 545.8,682.9 546.6,680.6 546.8,680.5 548,683.7 548.4,683.7 548.6,683.3 548.8,683.3 549,683.6 549.2,683.5 549.4,684.0 549.8,683.6 550,683.9 550.4,683.6 550.6,683.9 550.8,683.6 551.2,683.9 551.6,683.1 552.6,683.5 552.8,684.0 553.4,683.6 553.8,684.0 554.4,683.4 554.8,683.8 555,683.6 555.4,683.7 555.8,683.3 556.2,683.7 556.8,683.2 557.6,679.1 557.8,678.4 558.2,678.0 559.6,683.4 560.2,683.7 560.6,683.7 561.2,684.4 561.4,684.1 562,684.0 562.8,683.5 563.4,683.9 564.2,683.1 564.8,680.3 565.6,674.1 565.8,673.2 566.2,672.5 568,683.0 568.4,683.7 568.6,683.6 568.8,683.9 569.6,683.6 569.8,683.7 570.4,682.9 570.6,682.9 570.8,682.7 571,682.8 571.2,682.7 572.4,672.1 572.8,669.3 573,669.0 573.6,673.9 574,670.3 574.2,669.5 574.4,670.4 575.4,680.3 576,683.1 576.2,683.5 577.2,683.1 577.4,683.4 577.6,683.1 578,683.5 578.4,683.2 578.6,683.3 579,682.2 580.2,670.0 580.6,668.5 581,671.5 581.4,669.3 581.8,670.5 582.8,681.1 583,682.5 583.4,683.7 584.2,682.4 584.8,683.4 585,683.3 585.6,681.7 586.8,676.0 587.2,676.6 587.8,679.1 588.4,676.5 588.6,676.3 588.8,676.5 590,682.6 590.4,683.5 590.8,683.5 591.2,683.9 592,683.4 592.2,683.2 592.4,681.8 592.6,675.9 593.2,625.6 593.4,625.2 594,674.5 594.2,675.0 594.8,662.8 595.4,662.5 596.4,675.7 597,681.2 597.6,683.6 597.8,683.5 598.2,683.9 598.4,683.8 599,684.4 599.4,683.9 599.6,684.0 600,683.4 601.4,679.1 601.6,679.0 602,679.1 602.4,680.0 603,682.3 603.4,683.0 603.8,683.4 604,683.3 604.2,683.7 604.8,683.4 605,683.6 605.2,683.3 605.6,683.9 606,683.5 606.2,683.9 606.4,683.8 606.6,684.1 607,684.2 607.6,683.6 607.8,683.8 608.2,683.4 608.4,683.6 608.6,683.5 609,683.7 609.2,684.0 610,683.4 610.6,683.9 611.4,683.7 611.8,684.0 612,683.7 612.8,683.5 613.4,683.2 613.8,683.6 614,683.4 614.2,683.6 614.6,683.2 614.8,683.6 615,683.4 615.2,683.7 615.6,683.4 615.8,683.7 616.2,683.7 616.4,683.4 616.8,683.9 617.2,683.0 617.8,683.7 618.2,682.7 618.4,682.9 618.8,684.1 619.2,683.8 619.8,682.7 620.2,683.0 620.6,682.7 620.8,682.8 621,682.6 621.8,683.7 622,683.2 622.6,683.6 623.2,683.6 623.4,683.8 623.8,683.8 624,683.6 624.2,683.9 624.4,683.6 624.8,683.9 625,683.6 625.6,683.4 625.8,683.7 626,683.5 626.2,683.8 627.2,683.4 627.8,684.2 628.2,683.6 628.4,683.5 628.8,684.0 629.4,683.4 629.8,684.0 630.4,683.9 631.2,684.5 631.6,684.2 631.8,683.7 632,683.8 632.2,683.6 632.6,684.2 632.8,683.9 633,684.1 633.6,683.7 634.4,683.7 634.6,683.4 635,683.9 635.2,683.8 635.6,684.1 635.8,683.8 636.6,684.2 636.8,684.1 637.4,683.0 637.8,683.2 638,683.0 638.6,683.5 639.2,683.3 639.4,683.6 639.8,683.5 640,683.8 640.8,683.5 641,683.8 641.8,683.3 642,683.7 642.6,683.2 643,683.8 643.2,683.5 643.4,683.7 643.8,683.5 644.2,683.0 645.2,683.9 645.4,683.7 646.6,683.8 647,683.3 647.8,684.2 648,684.0 648.6,684.4 649.2,684.2 649.8,683.5 650,683.8 651,683.3 651.8,684.0 652,684.1 652.2,683.9 652.8,684.3 653.4,683.7 653.8,684.0 654.6,683.5 655,682.2 655.6,683.4 655.8,683.4 656.2,683.7 656.4,683.5 657.2,683.4 657.4,683.2 657.8,683.8 658.4,683.2 658.6,683.5 658.8,683.3 659.4,683.8 659.8,683.8 660.4,681.3 660.6,681.4 661,683.6 661.2,683.8 661.6,683.4 662.4,684.1 663,683.4 663.2,683.4 663.4,683.3 664.2,683.9 664.4,683.6 664.8,683.8 665.2,683.7 665.4,684.0 666.2,682.7 666.4,682.6 666.8,683.6 667.2,683.6 668.2,684.4 668.4,684.0 668.8,684.1 669.8,681.7 670.2,681.4 670.8,682.7 671.6,681.9 671.8,682.0 672.8,683.9 673,683.7 673.6,683.7 674.4,683.2 675.2,684.1 676,684.4 676.4,683.9 676.6,684.1 677,684.2 677.8,683.5 678.6,684.1 678.8,683.8 679,683.9 679.2,683.6 679.6,684.1 679.8,683.7 680.2,684.1 680.6,684.0 681,683.4 681.2,683.5 681.6,683.2 682.4,683.8 682.6,683.8 682.8,683.5 683,683.8 683.2,683.5 683.4,683.9 684,684.0 684.2,683.8 684.6,683.9 684.8,683.7 685,683.8 685.6,683.5 685.8,683.7 686.2,683.5 686.6,683.1 686.8,683.4 687,683.3 687.4,683.4 688.2,684.1 688.6,683.8 688.8,684.0 689.2,684.1 689.4,683.8 690,684.1 690.6,683.7 690.8,683.9 691.4,683.8 692.2,681.7 692.4,682.2 692.8,682.2 693.2,683.5 693.4,683.4 693.6,683.8 694,683.4 694.8,683.6 695.2,683.3 695.4,683.6 695.6,683.5 696,683.8 696.2,683.5 696.4,683.8 697,683.3 697.4,683.7 697.8,683.3 698.2,683.5 698.8,683.4 699,683.8 699.2,683.7 699.4,684.0 699.6,683.8 700.2,684.4 700.6,683.7 700.8,684.0 701.2,683.6 701.4,683.9 701.6,683.6 701.8,683.8 702.4,683.4 702.6,683.7 703.2,683.3 703.6,683.9 704.4,684.2 704.8,684.6 705.2,684.2 705.4,684.4 705.6,684.3 705.8,683.9 706,684.1 706.2,683.7 707,684.4 707.2,684.2 707.6,684.2 708,683.7 708.8,683.8 709.2,683.4 709.8,684.2 710.2,684.4 710.6,684.4 711,684.0 711.6,684.2 712.4,683.7 712.8,683.9 713.2,683.5 713.6,684.1 714.2,683.7 714.4,683.9 714.6,683.6 715,683.5 715.6,683.1 715.8,683.3 716.2,682.9 716.6,682.9 717.2,683.7 717.4,683.5 717.8,684.1 718.6,684.5 719,684.3 719.6,683.6 720.2,683.4 721.2,684.4 721.6,684.0 722.2,684.4 722.8,683.6 723.2,683.9 723.4,683.5 723.8,683.9 724.4,683.4 725.2,681.9 725.8,683.8 726.2,684.2 726.6,683.7 727,683.9" fill="none" stroke="#000" stroke-width="1.3" stroke-linejoin="round"/>
<path d="M518,769.8 518.4,769.5 519.2,769.8 519.6,769.6 519.8,769.8 520.4,769.6 520.6,769.8 521,769.4 521.4,769.7 522,769.3 523,769.8 523.8,769.3 524,769.5 525.2,769.5 526,769.0 526.4,769.4 526.8,769.1 527.2,769.3 527.8,769.1 528.6,769.7 529,769.6 529.4,769.9 529.8,769.9 530.6,768.9 530.8,769.1 531.4,769.2 532,769.9 532.2,769.8 533.2,770.0 533.6,769.7 534.2,769.6 534.4,769.4 534.6,769.6 535.4,769.5 536,769.8 536.6,769.7 537,769.9 537.2,769.6 537.6,769.8 538.2,769.4 538.8,769.8 539.4,769.4 539.8,769.5 540.6,769.2 540.8,769.4 541.2,769.1 541.4,769.5 541.6,769.2 542,769.3 542.4,769.0 542.8,769.3 543.4,769.1 544.2,769.9 544.4,769.7 545.2,770.0 546,769.5 546.2,769.8 546.6,769.5 546.8,769.6 547.4,767.7 547.6,767.8 548,769.4 548.4,769.5 549,770.0 549.2,769.9 549.6,770.2 550.8,769.6 551.2,769.8 551.8,769.2 552.2,769.5 552.6,769.3 553,769.4 553.4,769.1 554,769.6 554.2,769.4 554.8,769.4 555.2,769.1 555.4,769.4 555.8,769.4 556,769.8 556.2,769.7 556.8,769.3 557.2,769.4 558,768.1 558.4,768.3 558.8,769.2 559.2,768.5 559.4,768.5 560,769.6 560.6,769.6 561.2,769.2 562,770.0 562.8,769.2 563.2,769.5 563.4,769.4 563.6,769.7 564.4,769.1 564.6,769.1 565,769.6 566,769.4 566.4,769.7 566.6,769.8 566.8,769.6 567.4,769.9 567.8,769.6 568,769.8 568.2,769.6 568.6,770.0 569,769.5 569.4,769.5 569.8,769.2 570.2,769.3 570.4,769.2 570.8,769.5 571.4,769.5 572.2,768.7 573.2,769.5 573.8,769.3 574,769.6 574.2,769.5 574.6,769.6 575,769.3 575.4,769.8 576,770.2 577,769.2 577.6,769.1 578.2,768.0 578.8,768.9 579.4,769.3 579.8,763.1 580.4,721.8 580.6,721.7 581,751.1 581.6,731.3 581.8,731.2 582.4,757.1 583.4,767.6 583.8,768.9 584.4,769.7 584.6,769.5 585,769.8 585.4,769.6 585.6,769.7 586.6,769.1 587,769.6 587.4,769.2 587.6,769.4 587.8,769.2 588,769.5 589.2,770.0 589.8,769.7 590.4,768.9 590.8,768.9 591.2,769.6 591.8,769.6 592.2,769.2 592.4,769.4 592.8,769.3 593.2,769.8 593.8,769.6 594.6,770.0 594.8,769.8 595.4,769.8 596,769.2 596.8,769.7 597.2,769.5 597.4,769.7 598,769.4 598.2,769.6 598.4,769.5 598.8,769.8 599.2,769.3 599.6,769.5 600.4,769.4 600.8,769.6 601.4,769.2 602.2,769.5 602.6,769.3 603,769.7 603.2,769.5 603.6,769.5 603.8,769.8 604,769.6 604.2,769.8 604.6,769.3 605.6,768.9 606.2,769.2 606.6,769.7 607.2,769.5 607.6,769.9 608.2,769.6 608.4,769.7 609,769.3 609.4,768.7 609.8,767.7 610.6,769.7 611.4,770.0 611.8,769.9 612.6,769.3 613.2,769.8 613.4,769.6 614,769.9 614.2,769.7 614.8,769.9 615,769.7 615.2,769.9 616.6,768.7 617.2,768.8 617.8,769.4 618,769.3 618.2,769.5 618.4,769.3 618.6,769.6 619,769.4 619.2,769.7 619.8,769.9 620.8,769.5 621,769.6 621.4,769.2 621.8,769.8 622,769.8 622.2,769.7 622.4,769.9 622.8,769.9 623.2,769.7 623.4,769.1 623.8,768.8 624.4,769.8 624.6,769.6 624.8,769.8 625.4,768.9 626,769.0 626.4,769.7 626.6,769.7 626.8,769.5 627.4,769.5 627.8,769.9 628.2,769.5 628.8,769.7 629,769.4 629.8,770.1 630.2,769.6 630.4,769.5 630.6,769.6 631.4,769.2 631.8,769.7 632.4,769.3 633,769.4 633.2,769.7 633.4,769.6 633.8,769.9 634.2,769.5 634.6,769.6 635,769.2 635.2,769.3 635.4,769.0 635.8,768.9 636,769.1 636.2,769.0 636.8,769.6 637.6,768.8 638,769.1 638.4,769.6 638.6,769.3 639,769.1 639.6,769.7 640,769.3 640.4,769.6 640.6,769.4 641.4,769.6 641.6,769.8 641.8,769.8 643,767.5 643.6,768.9 644,769.2 644.4,769.1 644.6,769.4 645.4,769.4 645.8,769.9 646,769.8 646.6,770.1 646.8,769.8 647,770.0 647.8,769.8 648,770.0 648.4,769.7 648.8,770.0 649.2,769.8 649.6,769.9 649.8,769.7 650.2,769.9 650.8,769.3 651.4,769.7 651.8,769.5 652.4,769.9 653.2,769.4 653.8,769.2 654,769.5 654.4,769.1 654.6,769.2 655,768.6 656,769.5 656.8,768.3 657.4,769.4 657.8,769.7 658.2,769.6 658.8,769.0 659.4,769.6 659.8,769.4 660.2,769.7 661,769.1 661.6,769.9 662.2,769.5 662.8,769.7 663.4,770.2 664.2,769.5 664.4,769.4 665,769.9 665.8,769.3 666.4,769.0 666.6,769.2 667.4,767.7 668.6,763.9 668.8,763.9 669,764.5 669.4,766.6 670.2,769.1 670.6,769.2 671.2,769.8 671.8,769.5 672.2,768.7 672.4,768.7 672.8,769.6 673.6,769.8 673.8,769.6 674,769.8 675,769.6 675.2,769.4 675.8,769.3 676.4,768.2 676.8,767.8 678.2,769.8 678.6,769.4 679,769.6 679.4,769.3 680,769.9 680.2,769.6 680.4,769.8 681,769.7 681.4,769.2 682.6,769.9 683,769.4 683.8,770.1 684.2,769.7 684.4,769.9 685.2,769.1 686.2,769.7 686.8,769.2 688.2,769.8 688.6,769.3 688.8,769.6 689.4,768.9 690.2,769.6 691,769.6 691.2,769.3 691.4,769.6 691.8,769.4 692.4,769.9 693,769.3 693.6,769.7 694,769.3 694.2,769.5 695.2,769.2 695.6,769.6 696,769.6 696.2,769.8 696.8,769.4 697,769.7 697.6,769.7 698.4,769.1 698.6,769.4 698.8,769.4 699.4,768.7 700.2,769.6 700.6,769.4 700.8,768.9 701.2,768.7 701.8,769.5 702,769.3 702.2,769.6 702.4,769.4 702.8,769.7 703,769.5 703.8,769.6 704.8,769.2 705.2,769.4 706,768.9 706.4,769.3 707,769.2 707.4,769.7 707.6,769.5 708.6,769.8 709.2,767.7 709.4,767.7 709.8,769.1 710.2,769.4 710.6,769.3 711,769.7 711.6,769.2 711.8,769.3 712.2,769.2 712.4,769.4 712.6,769.3 712.8,769.5 713.2,769.5 713.6,769.8 714,769.5 714.6,769.9 715.6,769.6 716.2,769.7 716.4,769.5 717.6,769.8 718.2,769.5 718.6,769.7 719.2,769.5 719.6,769.6 720,769.3 720.2,769.5 720.8,769.3 721.6,769.5 721.8,769.4 722.4,769.9 722.8,769.6 723.8,770.2 724.2,769.7 724.4,769.8 725,769.5 725.4,769.8 725.6,769.6 726.2,769.9 727,769.4" fill="none" stroke="#000" stroke-width="1.1" stroke-linejoin="round"/>
<line x1="167.20" y1="618.10" x2="174.70" y2="618.10" stroke="#000" stroke-width="1.0" />
<line x1="157.00" y1="618.10" x2="162.40" y2="625.10" stroke="#000" stroke-width="1.2" />
<line x1="167.20" y1="618.10" x2="162.40" y2="625.10" stroke="#000" stroke-width="1.2" />
<line x1="149.40" y1="625.10" x2="156.20" y2="631.20" stroke="#000" stroke-width="1.2" />
<line x1="162.40" y1="625.10" x2="156.20" y2="631.20" stroke="#000" stroke-width="1.2" />
<line x1="156.50" y1="631.20" x2="156.50" y2="639.30" stroke="#000" stroke-width="1.1" />
<line x1="156.50" y1="639.30" x2="156.50" y2="646.70" stroke="#000" stroke-width="1.1" />
<line x1="156.50" y1="646.70" x2="156.50" y2="651.30" stroke="#000" stroke-width="1.1" />
<circle cx="157.00" cy="618.10" r="2.75" fill="#00f000" stroke="#000" stroke-width="1.0"/>
<circle cx="167.20" cy="618.10" r="2.75" fill="#00f000" stroke="#000" stroke-width="1.0"/>
<circle cx="149.40" cy="625.10" r="2.75" fill="#00f000" stroke="#000" stroke-width="1.0"/>
<circle cx="162.40" cy="625.10" r="2.75" fill="#00f000" stroke="#000" stroke-width="1.0"/>
<circle cx="156.20" cy="631.20" r="2.75" fill="#00f000" stroke="#000" stroke-width="1.0"/>
<rect x="153.55" y="636.65" width="5.3" height="5.3" fill="#0000f0" stroke="#000" stroke-width="1.0"/>
<rect x="153.55" y="644.05" width="5.3" height="5.3" fill="#0000f0" stroke="#000" stroke-width="1.0"/>
<line x1="156.20" y1="653.80" x2="134.90" y2="670.90" stroke="#000" stroke-width="1.2" />
<text transform="translate(174.02,622.10) scale(1.1594,1)" font-size="10.29" font-weight="700" fill="#000"  stroke="#000" stroke-width="0.2" stroke-linejoin="round">P</text>
<text transform="translate(121.25,626.77) scale(1.0996,1)" font-size="8.45" font-weight="400" fill="#000"  stroke="#000" stroke-width="0.5" stroke-linejoin="round">1434</text>
<line x1="125.80" y1="629.50" x2="139.20" y2="629.50" stroke="#000" stroke-width="1.1" />
<line x1="131.40" y1="629.50" x2="131.40" y2="634.00" stroke="#000" stroke-width="1.0" />
<line x1="131.40" y1="633.50" x2="131.40" y2="685.00" stroke="#000" stroke-width="1.6" />
<line x1="145.30" y1="700.70" x2="150.40" y2="708.00" stroke="#000" stroke-width="1.2" />
<line x1="155.50" y1="700.70" x2="150.40" y2="708.00" stroke="#000" stroke-width="1.2" />
<line x1="137.70" y1="708.00" x2="144.50" y2="713.60" stroke="#000" stroke-width="1.2" />
<line x1="150.40" y1="708.00" x2="144.50" y2="713.60" stroke="#000" stroke-width="1.2" />
<line x1="144.50" y1="713.60" x2="144.50" y2="721.70" stroke="#000" stroke-width="1.1" />
<line x1="144.50" y1="721.70" x2="144.50" y2="728.90" stroke="#000" stroke-width="1.1" />
<line x1="144.50" y1="728.90" x2="144.50" y2="733.30" stroke="#000" stroke-width="1.1" />
<circle cx="145.30" cy="700.70" r="2.75" fill="#00f000" stroke="#000" stroke-width="1.0"/>
<circle cx="155.50" cy="700.70" r="2.75" fill="#00f000" stroke="#000" stroke-width="1.0"/>
<circle cx="137.70" cy="708.00" r="2.75" fill="#00f000" stroke="#000" stroke-width="1.0"/>
<circle cx="150.40" cy="708.00" r="2.75" fill="#00f000" stroke="#000" stroke-width="1.0"/>
<circle cx="144.50" cy="713.60" r="2.75" fill="#00f000" stroke="#000" stroke-width="1.0"/>
<rect x="141.85" y="719.05" width="5.3" height="5.3" fill="#0000f0" stroke="#000" stroke-width="1.0"/>
<rect x="141.85" y="726.25" width="5.3" height="5.3" fill="#0000f0" stroke="#000" stroke-width="1.0"/>
<line x1="144.50" y1="735.80" x2="121.60" y2="751.10" stroke="#000" stroke-width="1.2" />
<text transform="translate(109.84,707.97) scale(1.1216,1)" font-size="8.45" font-weight="400" fill="#000"  stroke="#000" stroke-width="0.5" stroke-linejoin="round">1353</text>
<line x1="114.30" y1="710.20" x2="128.00" y2="710.20" stroke="#000" stroke-width="1.1" />
<line x1="120.30" y1="710.20" x2="120.30" y2="713.00" stroke="#000" stroke-width="1.0" />
<line x1="120.30" y1="712.50" x2="120.30" y2="770.00" stroke="#000" stroke-width="1.5" />
<line x1="337.40" y1="618.70" x2="345.50" y2="618.70" stroke="#000" stroke-width="1.0" />
<line x1="327.70" y1="618.70" x2="332.80" y2="626.10" stroke="#000" stroke-width="1.2" />
<line x1="337.40" y1="618.70" x2="332.80" y2="626.10" stroke="#000" stroke-width="1.2" />
<line x1="320.30" y1="626.10" x2="326.60" y2="631.90" stroke="#000" stroke-width="1.2" />
<line x1="332.80" y1="626.10" x2="326.60" y2="631.90" stroke="#000" stroke-width="1.2" />
<line x1="326.50" y1="631.90" x2="326.50" y2="639.30" stroke="#000" stroke-width="1.1" />
<line x1="326.50" y1="639.30" x2="326.50" y2="647.30" stroke="#000" stroke-width="1.1" />
<line x1="326.50" y1="647.30" x2="326.50" y2="651.40" stroke="#000" stroke-width="1.1" />
<circle cx="327.70" cy="618.70" r="2.75" fill="#00f000" stroke="#000" stroke-width="1.0"/>
<circle cx="337.40" cy="618.70" r="2.75" fill="#00f000" stroke="#000" stroke-width="1.0"/>
<circle cx="320.30" cy="626.10" r="2.75" fill="#00f000" stroke="#000" stroke-width="1.0"/>
<circle cx="332.80" cy="626.10" r="2.75" fill="#00f000" stroke="#000" stroke-width="1.0"/>
<circle cx="326.60" cy="631.90" r="2.75" fill="#00f000" stroke="#000" stroke-width="1.0"/>
<rect x="323.95" y="636.65" width="5.3" height="5.3" fill="#0000f0" stroke="#000" stroke-width="1.0"/>
<rect x="323.95" y="644.65" width="5.3" height="5.3" fill="#0000f0" stroke="#000" stroke-width="1.0"/>
<line x1="326.60" y1="653.90" x2="346.50" y2="668.30" stroke="#000" stroke-width="1.2" />
<text transform="translate(344.86,622.40) scale(1.0928,1)" font-size="10.43" font-weight="700" fill="#000"  stroke="#000" stroke-width="0.2" stroke-linejoin="round">P</text>
<text transform="translate(333.94,641.27) scale(1.1548,1)" font-size="8.17" font-weight="400" fill="#000"  stroke="#000" stroke-width="0.5" stroke-linejoin="round">1434</text>
<line x1="339.10" y1="644.00" x2="352.20" y2="644.00" stroke="#000" stroke-width="1.1" />
<line x1="347.90" y1="644.00" x2="347.90" y2="651.00" stroke="#000" stroke-width="1.0" />
<line x1="394.20" y1="620.10" x2="402.30" y2="620.10" stroke="#000" stroke-width="1.0" />
<line x1="402.50" y1="620.10" x2="402.50" y2="627.60" stroke="#000" stroke-width="1.1" />
<line x1="409.70" y1="620.10" x2="415.10" y2="627.60" stroke="#000" stroke-width="1.2" />
<line x1="420.20" y1="620.10" x2="415.10" y2="627.60" stroke="#000" stroke-width="1.2" />
<line x1="402.30" y1="627.60" x2="409.00" y2="633.50" stroke="#000" stroke-width="1.2" />
<line x1="415.10" y1="627.60" x2="409.00" y2="633.50" stroke="#000" stroke-width="1.2" />
<line x1="409.50" y1="633.50" x2="409.50" y2="641.30" stroke="#000" stroke-width="1.1" />
<line x1="409.50" y1="641.30" x2="409.50" y2="648.70" stroke="#000" stroke-width="1.1" />
<line x1="409.50" y1="648.70" x2="409.50" y2="652.80" stroke="#000" stroke-width="1.1" />
<circle cx="402.30" cy="620.10" r="2.75" fill="#00f000" stroke="#000" stroke-width="1.0"/>
<circle cx="409.70" cy="620.10" r="2.75" fill="#00f000" stroke="#000" stroke-width="1.0"/>
<circle cx="420.20" cy="620.10" r="2.75" fill="#00f000" stroke="#000" stroke-width="1.0"/>
<circle cx="402.30" cy="627.60" r="2.75" fill="#00f000" stroke="#000" stroke-width="1.0"/>
<circle cx="415.10" cy="627.60" r="2.75" fill="#00f000" stroke="#000" stroke-width="1.0"/>
<circle cx="409.00" cy="633.50" r="2.75" fill="#00f000" stroke="#000" stroke-width="1.0"/>
<rect x="406.35" y="638.65" width="5.3" height="5.3" fill="#0000f0" stroke="#000" stroke-width="1.0"/>
<rect x="406.35" y="646.05" width="5.3" height="5.3" fill="#0000f0" stroke="#000" stroke-width="1.0"/>
<line x1="408.40" y1="658.40" x2="375.40" y2="675.70" stroke="#000" stroke-width="1.2" />
<text transform="translate(387.64,624.40) scale(0.9361,1)" font-size="10.87" font-weight="700" fill="#000"  stroke="#000" stroke-width="0.2" stroke-linejoin="round">P</text>
<text transform="translate(362.25,621.06) scale(1.0198,1)" font-size="9.15" font-weight="400" fill="#000"  stroke="#000" stroke-width="0.5" stroke-linejoin="round">1596</text>
<line x1="367.40" y1="623.40" x2="380.20" y2="623.40" stroke="#000" stroke-width="1.1" />
<line x1="373.20" y1="623.40" x2="373.20" y2="627.00" stroke="#000" stroke-width="1.0" />
<line x1="317.10" y1="708.50" x2="322.30" y2="715.90" stroke="#000" stroke-width="1.2" />
<line x1="327.70" y1="708.50" x2="322.30" y2="715.90" stroke="#000" stroke-width="1.2" />
<line x1="309.70" y1="715.90" x2="316.40" y2="721.50" stroke="#000" stroke-width="1.2" />
<line x1="322.30" y1="715.90" x2="316.40" y2="721.50" stroke="#000" stroke-width="1.2" />
<line x1="316.50" y1="721.50" x2="316.50" y2="729.20" stroke="#000" stroke-width="1.1" />
<line x1="316.50" y1="729.20" x2="316.50" y2="737.10" stroke="#000" stroke-width="1.1" />
<line x1="316.50" y1="737.10" x2="316.50" y2="741.00" stroke="#000" stroke-width="1.1" />
<circle cx="317.10" cy="708.50" r="2.75" fill="#00f000" stroke="#000" stroke-width="1.0"/>
<circle cx="327.70" cy="708.50" r="2.75" fill="#00f000" stroke="#000" stroke-width="1.0"/>
<circle cx="309.70" cy="715.90" r="2.75" fill="#00f000" stroke="#000" stroke-width="1.0"/>
<circle cx="322.30" cy="715.90" r="2.75" fill="#00f000" stroke="#000" stroke-width="1.0"/>
<circle cx="316.40" cy="721.50" r="2.75" fill="#00f000" stroke="#000" stroke-width="1.0"/>
<rect x="313.75" y="726.55" width="5.3" height="5.3" fill="#0000f0" stroke="#000" stroke-width="1.0"/>
<rect x="313.75" y="734.45" width="5.3" height="5.3" fill="#0000f0" stroke="#000" stroke-width="1.0"/>
<line x1="316.40" y1="743.50" x2="336.20" y2="755.40" stroke="#000" stroke-width="1.2" />
<text transform="translate(325.34,731.37) scale(1.1807,1)" font-size="8.03" font-weight="400" fill="#000"  stroke="#000" stroke-width="0.5" stroke-linejoin="round">1353</text>
<line x1="330.00" y1="734.10" x2="343.00" y2="734.10" stroke="#000" stroke-width="1.1" />
<line x1="338.10" y1="734.10" x2="338.10" y2="737.00" stroke="#000" stroke-width="1.0" />
<line x1="378.50" y1="710.40" x2="378.50" y2="717.80" stroke="#000" stroke-width="1.1" />
<line x1="385.90" y1="710.40" x2="391.40" y2="717.80" stroke="#000" stroke-width="1.2" />
<line x1="396.30" y1="710.40" x2="391.40" y2="717.80" stroke="#000" stroke-width="1.2" />
<line x1="378.50" y1="717.80" x2="385.50" y2="724.00" stroke="#000" stroke-width="1.2" />
<line x1="391.40" y1="717.80" x2="385.50" y2="724.00" stroke="#000" stroke-width="1.2" />
<line x1="385.50" y1="724.00" x2="385.50" y2="731.90" stroke="#000" stroke-width="1.1" />
<line x1="385.50" y1="731.90" x2="385.50" y2="738.90" stroke="#000" stroke-width="1.1" />
<line x1="385.50" y1="738.90" x2="385.50" y2="744.00" stroke="#000" stroke-width="1.1" />
<circle cx="378.50" cy="710.40" r="2.75" fill="#00f000" stroke="#000" stroke-width="1.0"/>
<circle cx="385.90" cy="710.40" r="2.75" fill="#00f000" stroke="#000" stroke-width="1.0"/>
<circle cx="396.30" cy="710.40" r="2.75" fill="#00f000" stroke="#000" stroke-width="1.0"/>
<circle cx="378.50" cy="717.80" r="2.75" fill="#00f000" stroke="#000" stroke-width="1.0"/>
<circle cx="391.40" cy="717.80" r="2.75" fill="#00f000" stroke="#000" stroke-width="1.0"/>
<circle cx="385.50" cy="724.00" r="2.75" fill="#00f000" stroke="#000" stroke-width="1.0"/>
<rect x="382.85" y="729.25" width="5.3" height="5.3" fill="#0000f0" stroke="#000" stroke-width="1.0"/>
<rect x="382.85" y="736.25" width="5.3" height="5.3" fill="#0000f0" stroke="#000" stroke-width="1.0"/>
<line x1="384.00" y1="746.00" x2="360.30" y2="763.60" stroke="#000" stroke-width="1.2" />
<text transform="translate(347.23,708.67) scale(1.1578,1)" font-size="8.31" font-weight="400" fill="#000"  stroke="#000" stroke-width="0.5" stroke-linejoin="round">1516</text>
<line x1="352.20" y1="711.00" x2="364.80" y2="711.00" stroke="#000" stroke-width="1.1" />
<line x1="359.10" y1="711.00" x2="359.10" y2="715.00" stroke="#000" stroke-width="1.0" />
<line x1="614.00" y1="616.90" x2="622.20" y2="616.90" stroke="#000" stroke-width="1.0" />
<line x1="640.20" y1="616.90" x2="647.70" y2="616.90" stroke="#000" stroke-width="1.0" />
<line x1="622.20" y1="616.90" x2="622.50" y2="623.80" stroke="#000" stroke-width="1.2" />
<line x1="629.30" y1="616.90" x2="635.00" y2="623.80" stroke="#000" stroke-width="1.2" />
<line x1="640.20" y1="616.90" x2="635.00" y2="623.80" stroke="#000" stroke-width="1.2" />
<line x1="622.50" y1="623.80" x2="628.90" y2="630.20" stroke="#000" stroke-width="1.2" />
<line x1="635.00" y1="623.80" x2="628.90" y2="630.20" stroke="#000" stroke-width="1.2" />
<line x1="628.50" y1="630.20" x2="628.50" y2="637.70" stroke="#000" stroke-width="1.1" />
<line x1="628.50" y1="637.70" x2="628.50" y2="644.70" stroke="#000" stroke-width="1.1" />
<line x1="628.50" y1="644.70" x2="628.50" y2="650.40" stroke="#000" stroke-width="1.1" />
<circle cx="622.20" cy="616.90" r="2.75" fill="#00f000" stroke="#000" stroke-width="1.0"/>
<circle cx="629.30" cy="616.90" r="2.75" fill="#00f000" stroke="#000" stroke-width="1.0"/>
<circle cx="640.20" cy="616.90" r="2.75" fill="#00f000" stroke="#000" stroke-width="1.0"/>
<circle cx="622.50" cy="623.80" r="2.75" fill="#00f000" stroke="#000" stroke-width="1.0"/>
<circle cx="635.00" cy="623.80" r="2.75" fill="#00f000" stroke="#000" stroke-width="1.0"/>
<circle cx="628.90" cy="630.20" r="2.75" fill="#00f000" stroke="#000" stroke-width="1.0"/>
<rect x="626.25" y="635.05" width="5.3" height="5.3" fill="#0000f0" stroke="#000" stroke-width="1.0"/>
<rect x="626.25" y="642.05" width="5.3" height="5.3" fill="#0000f0" stroke="#000" stroke-width="1.0"/>
<text transform="translate(606.88,620.60) scale(1.1916,1)" font-size="9.28" font-weight="700" fill="#000"  stroke="#000" stroke-width="0.2" stroke-linejoin="round">P</text>
<text transform="translate(647.14,620.60) scale(1.0970,1)" font-size="9.28" font-weight="700" fill="#000"  stroke="#000" stroke-width="0.2" stroke-linejoin="round">P</text>
<line x1="629.30" y1="654.10" x2="595.60" y2="671.60" stroke="#000" stroke-width="1.2" />
<text transform="translate(582.44,619.46) scale(1.1088,1)" font-size="8.59" font-weight="400" fill="#000"  stroke="#000" stroke-width="0.5" stroke-linejoin="round">1676</text>
<line x1="587.10" y1="622.30" x2="600.70" y2="622.30" stroke="#000" stroke-width="1.1" />
<line x1="593.30" y1="622.30" x2="593.30" y2="625.00" stroke="#000" stroke-width="1.0" />
<line x1="593.30" y1="624.50" x2="593.30" y2="683.00" stroke="#000" stroke-width="1.7" />
<line x1="548.50" y1="701.80" x2="548.50" y2="708.60" stroke="#000" stroke-width="1.1" />
<line x1="556.00" y1="701.80" x2="561.20" y2="708.60" stroke="#000" stroke-width="1.2" />
<line x1="566.30" y1="701.80" x2="561.20" y2="708.60" stroke="#000" stroke-width="1.2" />
<line x1="548.90" y1="708.60" x2="555.30" y2="714.50" stroke="#000" stroke-width="1.2" />
<line x1="561.20" y1="708.60" x2="555.30" y2="714.50" stroke="#000" stroke-width="1.2" />
<line x1="555.50" y1="714.50" x2="555.50" y2="722.10" stroke="#000" stroke-width="1.1" />
<line x1="555.50" y1="722.10" x2="555.50" y2="729.90" stroke="#000" stroke-width="1.1" />
<line x1="555.50" y1="729.90" x2="555.50" y2="735.10" stroke="#000" stroke-width="1.1" />
<circle cx="548.90" cy="701.80" r="2.75" fill="#00f000" stroke="#000" stroke-width="1.0"/>
<circle cx="556.00" cy="701.80" r="2.75" fill="#00f000" stroke="#000" stroke-width="1.0"/>
<circle cx="566.30" cy="701.80" r="2.75" fill="#00f000" stroke="#000" stroke-width="1.0"/>
<circle cx="548.90" cy="708.60" r="2.75" fill="#00f000" stroke="#000" stroke-width="1.0"/>
<circle cx="561.20" cy="708.60" r="2.75" fill="#00f000" stroke="#000" stroke-width="1.0"/>
<circle cx="555.30" cy="714.50" r="2.75" fill="#00f000" stroke="#000" stroke-width="1.0"/>
<rect x="552.65" y="719.45" width="5.3" height="5.3" fill="#0000f0" stroke="#000" stroke-width="1.0"/>
<rect x="552.65" y="727.25" width="5.3" height="5.3" fill="#0000f0" stroke="#000" stroke-width="1.0"/>
<line x1="555.60" y1="738.80" x2="578.00" y2="752.30" stroke="#000" stroke-width="1.2" />
<text transform="translate(568.84,714.57) scale(1.1545,1)" font-size="8.17" font-weight="400" fill="#000"  stroke="#000" stroke-width="0.5" stroke-linejoin="round">1516</text>
<line x1="573.90" y1="717.30" x2="586.20" y2="717.30" stroke="#000" stroke-width="1.1" />
<line x1="580.50" y1="717.30" x2="580.50" y2="721.00" stroke="#000" stroke-width="1.0" />
<line x1="580.50" y1="720.00" x2="580.50" y2="769.00" stroke="#000" stroke-width="1.8" />
</svg>
</body></html>
